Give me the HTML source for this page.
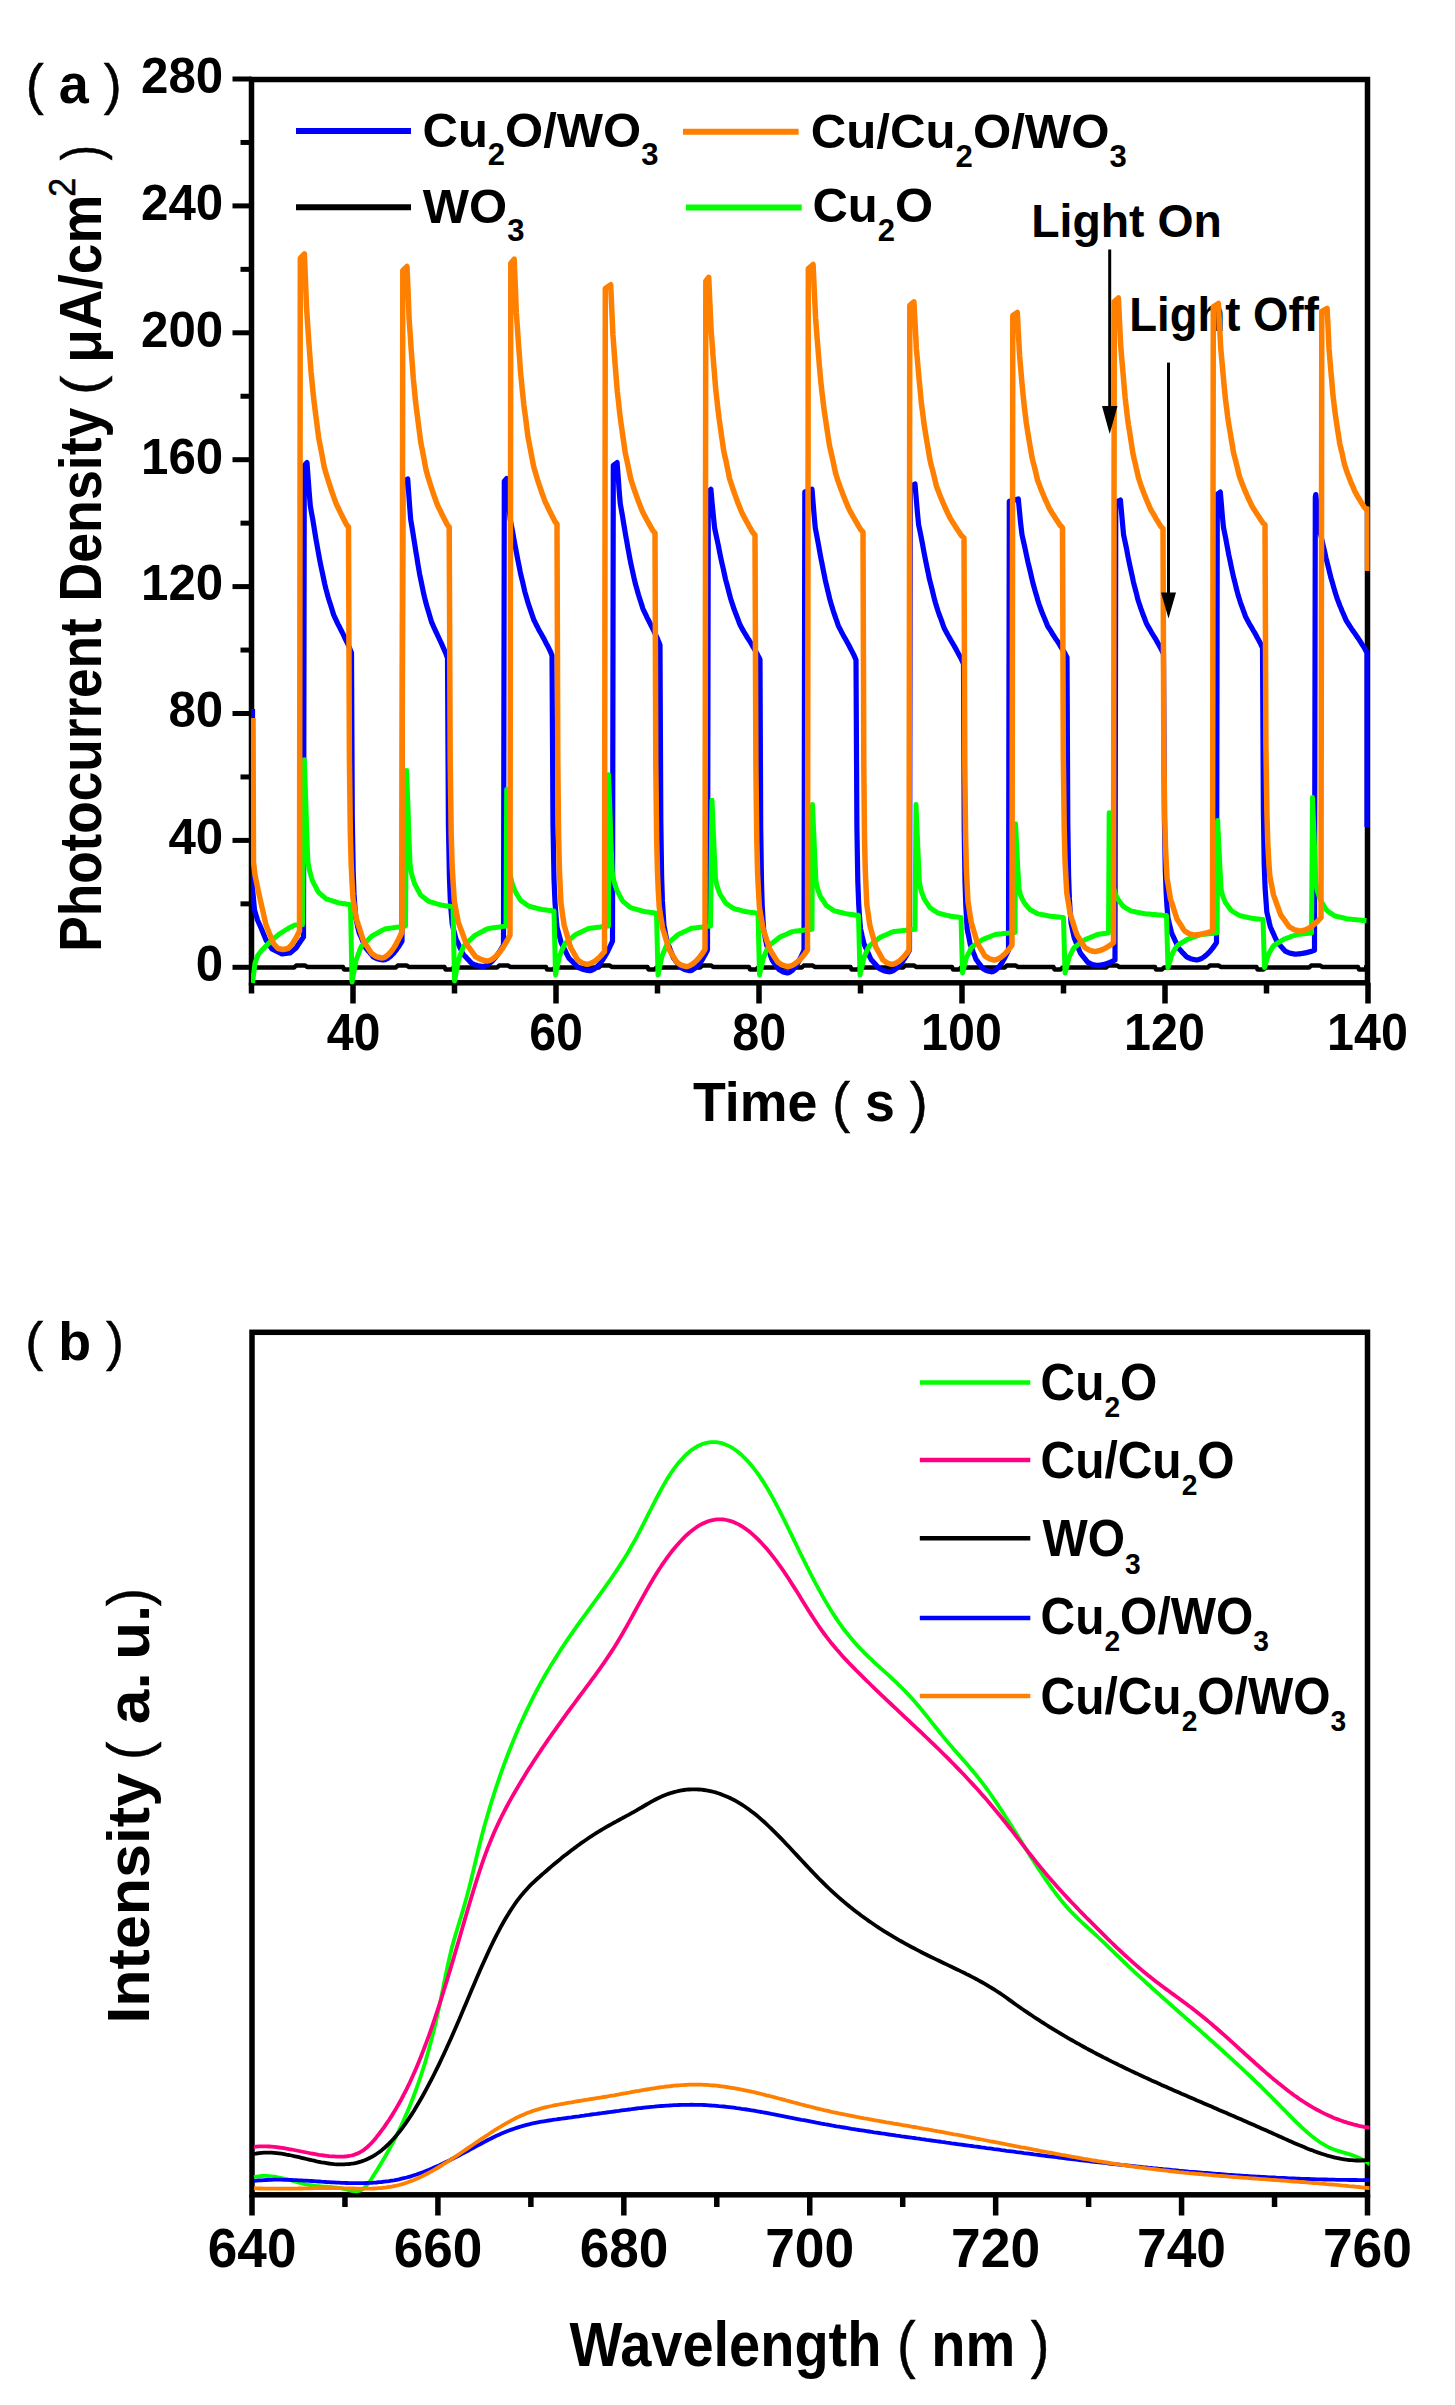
<!DOCTYPE html>
<html><head><meta charset="utf-8"><title>Photocurrent and PL spectra</title>
<style>html,body{margin:0;padding:0;background:#fff;overflow:hidden;width:1455px;height:2405px;}svg{display:block;}</style>
</head><body>
<svg width="1455" height="2405" viewBox="0 0 1455 2405"><rect x="251.5" y="79.5" width="1116.0" height="903.3" fill="none" stroke="#000" stroke-width="5.5"/>
<line x1="232.50" y1="967.30" x2="251.50" y2="967.30" stroke="#000" stroke-width="5" stroke-linecap="butt"/>
<line x1="240.50" y1="903.85" x2="251.50" y2="903.85" stroke="#000" stroke-width="5" stroke-linecap="butt"/>
<line x1="232.50" y1="840.40" x2="251.50" y2="840.40" stroke="#000" stroke-width="5" stroke-linecap="butt"/>
<line x1="240.50" y1="776.95" x2="251.50" y2="776.95" stroke="#000" stroke-width="5" stroke-linecap="butt"/>
<line x1="232.50" y1="713.50" x2="251.50" y2="713.50" stroke="#000" stroke-width="5" stroke-linecap="butt"/>
<line x1="240.50" y1="650.05" x2="251.50" y2="650.05" stroke="#000" stroke-width="5" stroke-linecap="butt"/>
<line x1="232.50" y1="586.60" x2="251.50" y2="586.60" stroke="#000" stroke-width="5" stroke-linecap="butt"/>
<line x1="240.50" y1="523.15" x2="251.50" y2="523.15" stroke="#000" stroke-width="5" stroke-linecap="butt"/>
<line x1="232.50" y1="459.70" x2="251.50" y2="459.70" stroke="#000" stroke-width="5" stroke-linecap="butt"/>
<line x1="240.50" y1="396.25" x2="251.50" y2="396.25" stroke="#000" stroke-width="5" stroke-linecap="butt"/>
<line x1="232.50" y1="332.80" x2="251.50" y2="332.80" stroke="#000" stroke-width="5" stroke-linecap="butt"/>
<line x1="240.50" y1="269.35" x2="251.50" y2="269.35" stroke="#000" stroke-width="5" stroke-linecap="butt"/>
<line x1="232.50" y1="205.90" x2="251.50" y2="205.90" stroke="#000" stroke-width="5" stroke-linecap="butt"/>
<line x1="240.50" y1="142.45" x2="251.50" y2="142.45" stroke="#000" stroke-width="5" stroke-linecap="butt"/>
<line x1="232.50" y1="79.00" x2="251.50" y2="79.00" stroke="#000" stroke-width="5" stroke-linecap="butt"/>
<line x1="251.50" y1="982.80" x2="251.50" y2="993.50" stroke="#000" stroke-width="5.5" stroke-linecap="butt"/>
<line x1="353.00" y1="982.80" x2="353.00" y2="1003.50" stroke="#000" stroke-width="5.5" stroke-linecap="butt"/>
<line x1="454.50" y1="982.80" x2="454.50" y2="993.50" stroke="#000" stroke-width="5.5" stroke-linecap="butt"/>
<line x1="556.00" y1="982.80" x2="556.00" y2="1003.50" stroke="#000" stroke-width="5.5" stroke-linecap="butt"/>
<line x1="657.50" y1="982.80" x2="657.50" y2="993.50" stroke="#000" stroke-width="5.5" stroke-linecap="butt"/>
<line x1="759.00" y1="982.80" x2="759.00" y2="1003.50" stroke="#000" stroke-width="5.5" stroke-linecap="butt"/>
<line x1="860.50" y1="982.80" x2="860.50" y2="993.50" stroke="#000" stroke-width="5.5" stroke-linecap="butt"/>
<line x1="962.00" y1="982.80" x2="962.00" y2="1003.50" stroke="#000" stroke-width="5.5" stroke-linecap="butt"/>
<line x1="1063.50" y1="982.80" x2="1063.50" y2="993.50" stroke="#000" stroke-width="5.5" stroke-linecap="butt"/>
<line x1="1165.00" y1="982.80" x2="1165.00" y2="1003.50" stroke="#000" stroke-width="5.5" stroke-linecap="butt"/>
<line x1="1266.50" y1="982.80" x2="1266.50" y2="993.50" stroke="#000" stroke-width="5.5" stroke-linecap="butt"/>
<line x1="1368.00" y1="982.80" x2="1368.00" y2="1003.50" stroke="#000" stroke-width="5.5" stroke-linecap="butt"/>
<text font-family="Liberation Sans" fill="#000" xml:space="preserve" transform="translate(195.83,981.10) scale(0.9850,1)"><tspan font-size="50" font-weight="bold" dy="0">0</tspan></text>
<text font-family="Liberation Sans" fill="#000" xml:space="preserve" transform="translate(168.44,854.20) scale(0.9850,1)"><tspan font-size="50" font-weight="bold" dy="0">40</tspan></text>
<text font-family="Liberation Sans" fill="#000" xml:space="preserve" transform="translate(168.44,727.30) scale(0.9850,1)"><tspan font-size="50" font-weight="bold" dy="0">80</tspan></text>
<text font-family="Liberation Sans" fill="#000" xml:space="preserve" transform="translate(141.05,600.40) scale(0.9850,1)"><tspan font-size="50" font-weight="bold" dy="0">120</tspan></text>
<text font-family="Liberation Sans" fill="#000" xml:space="preserve" transform="translate(141.05,473.50) scale(0.9850,1)"><tspan font-size="50" font-weight="bold" dy="0">160</tspan></text>
<text font-family="Liberation Sans" fill="#000" xml:space="preserve" transform="translate(141.05,346.60) scale(0.9850,1)"><tspan font-size="50" font-weight="bold" dy="0">200</tspan></text>
<text font-family="Liberation Sans" fill="#000" xml:space="preserve" transform="translate(141.05,219.70) scale(0.9850,1)"><tspan font-size="50" font-weight="bold" dy="0">240</tspan></text>
<text font-family="Liberation Sans" fill="#000" xml:space="preserve" transform="translate(141.05,92.80) scale(0.9850,1)"><tspan font-size="50" font-weight="bold" dy="0">280</tspan></text>
<text font-family="Liberation Sans" fill="#000" xml:space="preserve" transform="translate(326.68,1049.80) scale(0.9500,1)"><tspan font-size="51" font-weight="bold" dy="0">40</tspan></text>
<text font-family="Liberation Sans" fill="#000" xml:space="preserve" transform="translate(529.16,1049.80) scale(0.9500,1)"><tspan font-size="51" font-weight="bold" dy="0">60</tspan></text>
<text font-family="Liberation Sans" fill="#000" xml:space="preserve" transform="translate(732.28,1049.80) scale(0.9500,1)"><tspan font-size="51" font-weight="bold" dy="0">80</tspan></text>
<text font-family="Liberation Sans" fill="#000" xml:space="preserve" transform="translate(921.05,1049.80) scale(0.9500,1)"><tspan font-size="51" font-weight="bold" dy="0">100</tspan></text>
<text font-family="Liberation Sans" fill="#000" xml:space="preserve" transform="translate(1124.05,1049.80) scale(0.9500,1)"><tspan font-size="51" font-weight="bold" dy="0">120</tspan></text>
<text font-family="Liberation Sans" fill="#000" xml:space="preserve" transform="translate(1327.05,1049.80) scale(0.9500,1)"><tspan font-size="51" font-weight="bold" dy="0">140</tspan></text>
<text font-family="Liberation Sans" fill="#000" xml:space="preserve" transform="translate(25.76,103.00) scale(0.9807,1)"><tspan font-size="55" font-weight="normal" dy="0" stroke="#000" stroke-width="0.5">(</tspan><tspan font-size="55" font-weight="bold" dy="0"> a </tspan><tspan font-size="55" font-weight="normal" dy="0" stroke="#000" stroke-width="0.5">)</tspan></text>
<text font-family="Liberation Sans" fill="#000" xml:space="preserve" transform="translate(692.90,1120.60) scale(0.9594,1)"><tspan font-size="56" font-weight="bold" dy="0">Time </tspan><tspan font-size="56" font-weight="normal" dy="0" stroke="#000" stroke-width="0.5">(</tspan><tspan font-size="56" font-weight="bold" dy="0"> s </tspan><tspan font-size="56" font-weight="normal" dy="0" stroke="#000" stroke-width="0.5">)</tspan></text>
<text font-family="Liberation Sans" fill="#000" xml:space="preserve" transform="translate(100.80,951.75) rotate(-90) scale(0.8931,1)"><tspan font-size="59.5" font-weight="bold" dy="0">Photocurrent</tspan></text>
<text font-family="Liberation Sans" fill="#000" xml:space="preserve" transform="translate(100.80,601.59) rotate(-90) scale(0.9030,1)"><tspan font-size="59.5" font-weight="bold" dy="0">Density</tspan></text>
<text font-family="Liberation Sans" fill="#000" xml:space="preserve" transform="translate(100.30,394.68) rotate(-90) scale(1.0305,1)"><tspan font-size="56" font-weight="normal" dy="0" stroke="#000" stroke-width="0.5">(</tspan></text>
<text font-family="Liberation Sans" fill="#000" xml:space="preserve" transform="translate(100.80,362.87) rotate(-90) scale(0.9251,1)"><tspan font-size="59.5" font-weight="bold" dy="0">μA/cm</tspan></text>
<text font-family="Liberation Sans" fill="#000" xml:space="preserve" transform="translate(75.00,196.71) rotate(-90) scale(0.9196,1)"><tspan font-size="37" font-weight="normal" dy="0" stroke="#000" stroke-width="0.6">2</tspan></text>
<text font-family="Liberation Sans" fill="#000" xml:space="preserve" transform="translate(100.30,160.27) rotate(-90) scale(0.8082,1)"><tspan font-size="56" font-weight="normal" dy="0" stroke="#000" stroke-width="0.5">)</tspan></text>
<line x1="296.00" y1="130.90" x2="411.00" y2="130.90" stroke="#0000FF" stroke-width="6" stroke-linecap="butt"/>
<line x1="683.00" y1="131.80" x2="798.60" y2="131.80" stroke="#FF8000" stroke-width="6" stroke-linecap="butt"/>
<line x1="296.00" y1="207.30" x2="411.00" y2="207.30" stroke="#000" stroke-width="6" stroke-linecap="butt"/>
<line x1="686.00" y1="207.40" x2="801.70" y2="207.40" stroke="#00FF00" stroke-width="6" stroke-linecap="butt"/>
<text font-family="Liberation Sans" fill="#000" xml:space="preserve" transform="translate(422.49,146.80) scale(1.0002,1)"><tspan font-size="49" font-weight="bold" dy="0">Cu</tspan><tspan font-size="31" font-weight="bold" dy="18.5">2</tspan><tspan font-size="49" font-weight="bold" dy="-18.5">O/WO</tspan><tspan font-size="31" font-weight="bold" dy="18.5">3</tspan></text>
<text font-family="Liberation Sans" fill="#000" xml:space="preserve" transform="translate(810.78,148.30) scale(1.0042,1)"><tspan font-size="49" font-weight="bold" dy="0">Cu/Cu</tspan><tspan font-size="31" font-weight="bold" dy="18.5">2</tspan><tspan font-size="49" font-weight="bold" dy="-18.5">O/WO</tspan><tspan font-size="31" font-weight="bold" dy="18.5">3</tspan></text>
<text font-family="Liberation Sans" fill="#000" xml:space="preserve" transform="translate(422.85,222.60) scale(1.0000,1)"><tspan font-size="49" font-weight="bold" dy="0">WO</tspan><tspan font-size="31" font-weight="bold" dy="18.5">3</tspan></text>
<text font-family="Liberation Sans" fill="#000" xml:space="preserve" transform="translate(812.39,222.20) scale(1.0000,1)"><tspan font-size="49" font-weight="bold" dy="0">Cu</tspan><tspan font-size="31" font-weight="bold" dy="18.5">2</tspan><tspan font-size="49" font-weight="bold" dy="-18.5">O</tspan></text>
<text font-family="Liberation Sans" fill="#000" xml:space="preserve" transform="translate(1031.20,236.60) scale(0.9871,1)"><tspan font-size="47" font-weight="bold" dy="0">Light On</tspan></text>
<text font-family="Liberation Sans" fill="#000" xml:space="preserve" transform="translate(1129.15,330.80) scale(0.9492,1)"><tspan font-size="48" font-weight="bold" dy="0">Light Off</tspan></text>
<defs><clipPath id="clipA"><rect x="251" y="60" width="1118.5" height="926"/></clipPath></defs>
<g clip-path="url(#clipA)">
<path d="M256.0,967.5 L294.2,967.5 L296.2,965.5 L305.2,965.5 L307.2,967.0 L343.0,967.0 L344.0,969.5 L350.0,969.5 L352.0,967.5 L395.8,967.5 L397.8,965.5 L406.8,965.5 L408.8,967.0 L444.5,967.0 L445.5,969.5 L451.5,969.5 L453.5,967.5 L497.2,967.5 L499.2,965.5 L508.2,965.5 L510.2,967.0 L546.0,967.0 L547.0,969.5 L553.0,969.5 L555.0,967.5 L598.8,967.5 L600.8,965.5 L609.8,965.5 L611.8,967.0 L647.5,967.0 L648.5,969.5 L654.5,969.5 L656.5,967.5 L700.2,967.5 L702.2,965.5 L711.2,965.5 L713.2,967.0 L749.0,967.0 L750.0,969.5 L756.0,969.5 L758.0,967.5 L801.8,967.5 L803.8,965.5 L812.8,965.5 L814.8,967.0 L850.5,967.0 L851.5,969.5 L857.5,969.5 L859.5,967.5 L903.2,967.5 L905.2,965.5 L914.2,965.5 L916.2,967.0 L952.0,967.0 L953.0,969.5 L959.0,969.5 L961.0,967.5 L1004.8,967.5 L1006.8,965.5 L1015.8,965.5 L1017.8,967.0 L1053.5,967.0 L1054.5,969.5 L1060.5,969.5 L1062.5,967.5 L1106.2,967.5 L1108.2,965.5 L1117.2,965.5 L1119.2,967.0 L1155.0,967.0 L1156.0,969.5 L1162.0,969.5 L1164.0,967.5 L1207.8,967.5 L1209.8,965.5 L1218.8,965.5 L1220.8,967.0 L1256.5,967.0 L1257.5,969.5 L1263.5,969.5 L1265.5,967.5 L1309.2,967.5 L1311.2,965.5 L1320.2,965.5 L1322.2,967.0 L1358.0,967.0 L1359.0,969.5 L1365.0,969.5 L1367.0,967.5 L1364.0,967.5" fill="none" stroke="#000" stroke-width="4.5" stroke-linejoin="round" stroke-linecap="butt" />
<path d="M252.5,709.0 L252.5,888.0 L254.5,910.0 L257.5,920.0 L261.5,929.0 L266.0,940.0 L272.0,949.0 L282.0,954.0 L290.0,953.0 L296.0,948.0 L300.0,942.0 L303.5,937.0 L304.3,465.5 L307.0,462.6 L308.1,477.6 L309.2,492.5 L310.3,505.8 L311.4,512.1 L312.6,518.5 L313.7,525.2 L314.8,532.0 L315.9,538.8 L317.0,544.9 L318.1,551.1 L319.2,557.3 L320.4,563.5 L321.5,568.7 L322.6,573.9 L323.7,579.1 L324.8,584.3 L325.9,588.8 L327.0,592.9 L328.1,597.0 L329.2,600.6 L330.4,604.2 L331.5,607.8 L332.6,611.4 L333.7,614.9 L334.8,617.3 L335.9,619.7 L337.0,622.1 L338.1,624.4 L339.3,626.6 L340.4,628.8 L341.5,631.0 L342.6,633.2 L343.7,635.4 L344.8,637.8 L345.9,640.1 L347.1,642.5 L348.2,644.9 L349.3,647.3 L350.4,650.1 L351.5,653.0 L352.3,818.1 L353.2,870.6 L354.0,893.7 L354.9,906.4 L355.7,917.6 L356.6,921.4 L357.4,925.1 L358.2,928.9 L359.1,932.5 L359.9,934.5 L360.8,936.4 L361.6,938.4 L362.4,940.4 L363.3,942.3 L364.1,944.3 L365.0,946.3 L365.8,948.0 L366.6,949.0 L367.5,950.0 L368.3,950.9 L369.2,951.9 L370.0,952.9 L370.9,953.9 L371.7,954.9 L372.5,955.9 L373.4,956.9 L374.2,957.3 L375.1,957.7 L375.9,958.1 L376.8,958.5 L377.6,958.8 L378.4,959.1 L379.3,959.3 L380.1,959.5 L381.0,959.6 L381.8,959.8 L382.6,960.0 L383.5,960.0 L384.3,959.8 L385.2,959.6 L386.0,959.2 L386.9,958.8 L387.7,958.4 L388.5,957.8 L389.4,957.2 L390.2,956.6 L391.1,955.8 L391.9,955.0 L392.7,954.2 L393.6,953.3 L394.4,952.3 L395.3,951.3 L396.1,950.2 L396.9,949.0 L397.8,947.8 L398.6,946.6 L399.5,945.3 L400.3,943.9 L401.2,942.5 L402.0,941.0 L402.8,481.7 L407.7,479.0 L408.7,493.1 L409.7,507.1 L410.7,519.6 L411.7,525.5 L412.7,531.5 L413.7,537.8 L414.7,544.2 L415.7,550.6 L416.7,556.4 L417.6,562.2 L418.6,568.1 L419.6,573.9 L420.6,578.8 L421.6,583.6 L422.6,588.5 L423.6,593.4 L424.6,597.7 L425.6,601.5 L426.6,605.3 L427.6,608.8 L428.6,612.1 L429.6,615.5 L430.6,618.8 L431.6,622.2 L432.6,624.4 L433.6,626.7 L434.6,628.9 L435.6,631.1 L436.6,633.2 L437.6,635.3 L438.5,637.3 L439.5,639.4 L440.5,641.5 L441.5,643.7 L442.5,645.9 L443.5,648.2 L444.5,650.4 L445.5,652.6 L446.5,655.3 L447.5,658.0 L448.4,823.9 L449.4,876.6 L450.3,899.9 L451.2,912.6 L452.2,923.9 L453.1,927.7 L454.0,931.5 L455.0,935.2 L455.9,938.9 L456.8,940.9 L457.8,942.8 L458.7,944.8 L459.6,946.8 L460.6,948.7 L461.5,950.7 L462.4,952.7 L463.4,954.4 L464.3,955.4 L465.2,956.4 L466.2,957.4 L467.1,958.4 L468.0,959.4 L469.0,960.4 L469.9,961.4 L470.8,962.4 L471.8,963.4 L472.7,963.8 L473.6,964.2 L474.6,964.6 L475.5,964.9 L476.4,965.3 L477.4,965.6 L478.3,965.8 L479.2,966.0 L480.2,966.1 L481.1,966.3 L482.0,966.5 L483.0,966.4 L483.9,966.3 L484.8,966.0 L485.8,965.6 L486.7,965.2 L487.6,964.7 L488.6,964.1 L489.5,963.4 L490.4,962.6 L491.4,961.8 L492.3,960.9 L493.2,959.9 L494.2,958.9 L495.1,957.8 L496.0,956.6 L497.0,955.4 L497.9,954.1 L498.8,952.7 L499.8,951.3 L500.7,949.8 L501.6,948.3 L502.6,946.7 L503.5,945.0 L504.3,481.3 L506.7,478.6 L507.8,492.5 L509.0,506.4 L510.1,518.7 L511.2,524.6 L512.4,530.5 L513.5,536.7 L514.6,543.0 L515.8,549.3 L516.9,555.1 L518.0,560.8 L519.2,566.6 L520.3,572.3 L521.4,577.1 L522.6,581.9 L523.7,586.8 L524.8,591.6 L526.0,595.8 L527.1,599.6 L528.2,603.4 L529.4,606.8 L530.5,610.1 L531.6,613.4 L532.7,616.7 L533.9,620.0 L535.0,622.2 L536.1,624.5 L537.3,626.7 L538.4,628.9 L539.5,630.9 L540.7,633.0 L541.8,635.0 L542.9,637.0 L544.1,639.1 L545.2,641.3 L546.3,643.5 L547.5,645.7 L548.6,647.9 L549.7,650.1 L550.9,652.7 L552.0,655.4 L553.0,824.9 L554.0,878.8 L555.0,902.6 L556.0,915.7 L557.0,927.2 L558.0,931.0 L559.1,934.9 L560.1,938.7 L561.1,942.5 L562.1,944.5 L563.1,946.5 L564.1,948.5 L565.1,950.5 L566.1,952.6 L567.1,954.6 L568.1,956.6 L569.1,958.4 L570.1,959.4 L571.2,960.4 L572.2,961.4 L573.2,962.4 L574.2,963.4 L575.2,964.5 L576.2,965.5 L577.2,966.5 L578.2,967.5 L579.2,967.9 L580.2,968.3 L581.2,968.7 L582.2,969.1 L583.3,969.5 L584.3,969.8 L585.3,970.0 L586.3,970.2 L587.3,970.3 L588.3,970.5 L589.3,970.7 L590.3,970.6 L591.3,970.4 L592.3,970.0 L593.3,969.5 L594.4,968.9 L595.4,968.2 L596.4,967.3 L597.4,966.4 L598.4,965.3 L599.4,964.2 L600.4,963.0 L601.4,961.6 L602.4,960.2 L603.4,958.7 L604.4,957.1 L605.4,955.4 L606.5,953.6 L607.5,951.7 L608.5,949.7 L609.5,947.7 L610.5,945.5 L611.5,943.3 L612.5,941.0 L613.3,465.3 L617.1,462.6 L618.2,476.9 L619.2,491.3 L620.3,503.9 L621.4,510.0 L622.5,516.1 L623.5,522.5 L624.6,529.0 L625.7,535.6 L626.8,541.5 L627.8,547.4 L628.9,553.3 L630.0,559.3 L631.0,564.2 L632.1,569.2 L633.2,574.2 L634.3,579.2 L635.3,583.5 L636.4,587.4 L637.5,591.3 L638.5,594.8 L639.6,598.3 L640.7,601.7 L641.8,605.1 L642.8,608.5 L643.9,610.8 L645.0,613.1 L646.1,615.4 L647.1,617.6 L648.2,619.7 L649.3,621.8 L650.3,624.0 L651.4,626.1 L652.5,628.2 L653.6,630.4 L654.6,632.7 L655.7,635.0 L656.8,637.2 L657.9,639.5 L658.9,642.3 L660.0,645.0 L660.8,820.1 L661.6,875.8 L662.4,900.4 L663.2,913.8 L664.0,925.8 L664.8,929.7 L665.5,933.7 L666.3,937.7 L667.1,941.5 L667.9,943.6 L668.7,945.7 L669.5,947.8 L670.3,949.9 L671.1,952.0 L671.9,954.0 L672.7,956.1 L673.5,957.9 L674.2,959.0 L675.0,960.0 L675.8,961.1 L676.6,962.1 L677.4,963.2 L678.2,964.2 L679.0,965.3 L679.8,966.4 L680.6,967.4 L681.4,967.8 L682.2,968.2 L683.0,968.7 L683.8,969.1 L684.5,969.5 L685.3,969.8 L686.1,970.0 L686.9,970.1 L687.7,970.3 L688.5,970.5 L689.3,970.7 L690.1,970.7 L690.9,970.5 L691.7,970.2 L692.5,969.9 L693.2,969.4 L694.0,968.9 L694.8,968.4 L695.6,967.7 L696.4,967.0 L697.2,966.2 L698.0,965.3 L698.8,964.4 L699.6,963.4 L700.4,962.3 L701.2,961.2 L702.0,960.0 L702.8,958.8 L703.5,957.4 L704.3,956.1 L705.1,954.6 L705.9,953.2 L706.7,951.6 L707.5,950.0 L708.3,491.9 L710.9,489.3 L712.1,502.7 L713.4,516.1 L714.6,527.9 L715.8,533.6 L717.0,539.3 L718.3,545.3 L719.5,551.4 L720.7,557.5 L721.9,563.0 L723.2,568.5 L724.4,574.1 L725.6,579.6 L726.9,584.3 L728.1,588.9 L729.3,593.6 L730.5,598.2 L731.8,602.3 L733.0,605.9 L734.2,609.6 L735.5,612.8 L736.7,616.0 L737.9,619.2 L739.1,622.4 L740.4,625.6 L741.6,627.8 L742.8,629.9 L744.0,632.0 L745.3,634.1 L746.5,636.1 L747.7,638.1 L749.0,640.0 L750.2,642.0 L751.4,644.0 L752.6,646.1 L753.9,648.2 L755.1,650.3 L756.3,652.5 L757.5,654.6 L758.8,657.1 L760.0,659.7 L760.7,828.1 L761.5,881.6 L762.2,905.3 L762.9,918.2 L763.7,929.7 L764.4,933.5 L765.1,937.3 L765.9,941.2 L766.6,944.9 L767.3,946.9 L768.1,948.9 L768.8,950.9 L769.5,952.9 L770.3,954.9 L771.0,956.9 L771.7,958.9 L772.5,960.6 L773.2,961.6 L773.9,962.7 L774.7,963.7 L775.4,964.7 L776.1,965.7 L776.9,966.7 L777.6,967.7 L778.3,968.7 L779.1,969.7 L779.8,970.1 L780.5,970.5 L781.3,970.9 L782.0,971.3 L782.7,971.7 L783.5,972.0 L784.2,972.2 L784.9,972.4 L785.7,972.5 L786.4,972.7 L787.1,972.9 L787.9,972.8 L788.6,972.7 L789.3,972.4 L790.1,972.0 L790.8,971.5 L791.5,971.0 L792.3,970.3 L793.0,969.6 L793.7,968.8 L794.5,967.9 L795.2,966.9 L795.9,965.9 L796.7,964.8 L797.4,963.6 L798.1,962.4 L798.9,961.1 L799.6,959.7 L800.3,958.2 L801.1,956.7 L801.8,955.1 L802.5,953.5 L803.3,951.8 L804.0,950.0 L804.8,491.9 L812.0,489.3 L813.1,502.7 L814.2,516.1 L815.3,528.0 L816.4,533.7 L817.5,539.4 L818.6,545.4 L819.7,551.5 L820.8,557.6 L821.9,563.1 L823.0,568.7 L824.1,574.2 L825.2,579.8 L826.3,584.4 L827.4,589.1 L828.5,593.7 L829.6,598.4 L830.7,602.4 L831.8,606.1 L832.9,609.8 L834.0,613.1 L835.1,616.3 L836.2,619.5 L837.3,622.7 L838.4,625.9 L839.5,628.0 L840.6,630.1 L841.7,632.3 L842.8,634.4 L843.9,636.4 L845.0,638.3 L846.1,640.3 L847.2,642.3 L848.3,644.2 L849.4,646.3 L850.5,648.5 L851.6,650.6 L852.7,652.7 L853.8,654.9 L854.9,657.4 L856.0,660.0 L856.9,827.6 L857.8,881.0 L858.7,904.5 L859.6,917.4 L860.5,928.8 L861.4,932.6 L862.2,936.4 L863.1,940.2 L864.0,943.9 L864.9,945.9 L865.8,947.9 L866.7,949.9 L867.6,951.9 L868.5,953.9 L869.4,955.9 L870.3,957.9 L871.2,959.6 L872.0,960.6 L872.9,961.6 L873.8,962.6 L874.7,963.6 L875.6,964.6 L876.5,965.6 L877.4,966.6 L878.3,967.6 L879.2,968.6 L880.1,969.1 L881.0,969.4 L881.9,969.8 L882.8,970.2 L883.6,970.6 L884.5,970.9 L885.4,971.1 L886.3,971.3 L887.2,971.4 L888.1,971.6 L889.0,971.8 L889.9,971.7 L890.8,971.6 L891.7,971.3 L892.6,970.9 L893.5,970.5 L894.3,969.9 L895.2,969.3 L896.1,968.6 L897.0,967.9 L897.9,967.0 L898.8,966.1 L899.7,965.1 L900.6,964.1 L901.5,963.0 L902.4,961.8 L903.3,960.5 L904.1,959.2 L905.0,957.8 L905.9,956.4 L906.8,954.9 L907.7,953.3 L908.6,951.7 L909.5,950.0 L910.3,486.7 L915.0,484.0 L916.2,498.1 L917.4,512.3 L918.6,524.8 L919.9,530.8 L921.1,536.8 L922.3,543.1 L923.5,549.6 L924.7,556.0 L925.9,561.9 L927.1,567.7 L928.3,573.5 L929.5,579.4 L930.8,584.3 L932.0,589.2 L933.2,594.1 L934.4,599.0 L935.6,603.3 L936.8,607.2 L938.0,611.0 L939.2,614.5 L940.5,617.9 L941.7,621.2 L942.9,624.6 L944.1,628.0 L945.3,630.2 L946.5,632.5 L947.7,634.8 L949.0,637.0 L950.2,639.1 L951.4,641.2 L952.6,643.2 L953.8,645.3 L955.0,647.4 L956.2,649.6 L957.4,651.9 L958.6,654.1 L959.9,656.4 L961.1,658.6 L962.3,661.3 L963.5,664.0 L964.2,829.5 L965.0,882.1 L965.8,905.3 L966.5,918.1 L967.2,929.3 L968.0,933.1 L968.8,936.8 L969.5,940.6 L970.2,944.2 L971.0,946.2 L971.8,948.2 L972.5,950.1 L973.2,952.1 L974.0,954.1 L974.8,956.1 L975.5,958.0 L976.2,959.7 L977.0,960.7 L977.8,961.7 L978.5,962.7 L979.2,963.7 L980.0,964.7 L980.8,965.7 L981.5,966.7 L982.2,967.7 L983.0,968.7 L983.8,969.1 L984.5,969.5 L985.2,969.9 L986.0,970.3 L986.8,970.6 L987.5,970.9 L988.2,971.1 L989.0,971.3 L989.8,971.4 L990.5,971.6 L991.2,971.8 L992.0,971.7 L992.8,971.6 L993.5,971.3 L994.2,970.9 L995.0,970.5 L995.8,969.9 L996.5,969.3 L997.2,968.6 L998.0,967.9 L998.8,967.0 L999.5,966.1 L1000.2,965.1 L1001.0,964.1 L1001.8,963.0 L1002.5,961.8 L1003.2,960.5 L1004.0,959.2 L1004.8,957.8 L1005.5,956.4 L1006.2,954.9 L1007.0,953.3 L1007.8,951.7 L1008.5,950.0 L1009.3,501.3 L1018.3,498.9 L1019.5,511.4 L1020.7,523.8 L1022.0,534.8 L1023.2,540.1 L1024.4,545.4 L1025.6,551.0 L1026.8,556.7 L1028.0,562.3 L1029.3,567.5 L1030.5,572.6 L1031.7,577.8 L1032.9,583.0 L1034.1,587.3 L1035.3,591.6 L1036.6,595.9 L1037.8,600.3 L1039.0,604.0 L1040.2,607.4 L1041.4,610.8 L1042.7,613.9 L1043.9,616.9 L1045.1,619.8 L1046.3,622.8 L1047.5,625.8 L1048.7,627.8 L1050.0,629.7 L1051.2,631.7 L1052.4,633.7 L1053.6,635.5 L1054.8,637.4 L1056.0,639.2 L1057.3,641.0 L1058.5,642.9 L1059.7,644.8 L1060.9,646.8 L1062.1,648.8 L1063.3,650.8 L1064.6,652.7 L1065.8,655.1 L1067.0,657.5 L1067.8,823.0 L1068.6,875.7 L1069.4,898.9 L1070.2,911.6 L1071.0,922.9 L1071.8,926.7 L1072.6,930.4 L1073.4,934.2 L1074.2,937.8 L1075.0,939.8 L1075.8,941.8 L1076.6,943.7 L1077.4,945.7 L1078.2,947.7 L1079.0,949.7 L1079.8,951.6 L1080.6,953.3 L1081.4,954.3 L1082.2,955.3 L1083.0,956.3 L1083.8,957.3 L1084.6,958.3 L1085.4,959.3 L1086.2,960.3 L1087.0,961.3 L1087.8,962.3 L1088.6,962.7 L1089.4,963.1 L1090.2,963.5 L1091.0,963.9 L1091.8,964.2 L1092.6,964.5 L1093.4,964.7 L1094.2,964.9 L1095.0,965.0 L1095.8,965.2 L1096.6,965.4 L1097.4,965.4 L1098.2,965.3 L1099.0,965.3 L1099.8,965.2 L1100.6,965.1 L1101.4,964.9 L1102.2,964.8 L1103.0,964.6 L1103.8,964.4 L1104.6,964.2 L1105.4,964.0 L1106.2,963.7 L1107.0,963.5 L1107.8,963.2 L1108.6,962.9 L1109.4,962.6 L1110.2,962.3 L1111.0,961.9 L1111.8,961.6 L1112.6,961.2 L1113.4,960.8 L1114.2,960.4 L1115.0,960.0 L1115.8,502.3 L1120.4,500.0 L1121.5,512.1 L1122.6,524.2 L1123.6,534.9 L1124.7,540.0 L1125.8,545.1 L1126.9,550.6 L1127.9,556.1 L1129.0,561.6 L1130.1,566.6 L1131.2,571.6 L1132.3,576.6 L1133.3,581.6 L1134.4,585.8 L1135.5,590.0 L1136.6,594.2 L1137.6,598.4 L1138.7,602.0 L1139.8,605.3 L1140.9,608.6 L1142.0,611.6 L1143.0,614.5 L1144.1,617.3 L1145.2,620.2 L1146.3,623.1 L1147.3,625.0 L1148.4,627.0 L1149.5,628.9 L1150.6,630.8 L1151.6,632.6 L1152.7,634.4 L1153.8,636.1 L1154.9,637.9 L1156.0,639.7 L1157.0,641.6 L1158.1,643.5 L1159.2,645.4 L1160.3,647.4 L1161.3,649.3 L1162.4,651.6 L1163.5,653.9 L1164.4,818.4 L1165.3,870.7 L1166.2,893.8 L1167.0,906.5 L1167.9,917.7 L1168.8,921.4 L1169.7,925.2 L1170.6,928.9 L1171.5,932.5 L1172.3,934.5 L1173.2,936.4 L1174.1,938.4 L1175.0,940.3 L1175.9,942.3 L1176.8,944.3 L1177.6,946.2 L1178.5,947.9 L1179.4,948.9 L1180.3,949.9 L1181.2,950.9 L1182.0,951.9 L1182.9,952.9 L1183.8,953.8 L1184.7,954.8 L1185.6,955.8 L1186.5,956.8 L1187.3,957.2 L1188.2,957.6 L1189.1,958.0 L1190.0,958.4 L1190.9,958.7 L1191.8,959.0 L1192.7,959.2 L1193.5,959.4 L1194.4,959.5 L1195.3,959.7 L1196.2,959.9 L1197.1,959.9 L1198.0,959.7 L1198.8,959.5 L1199.7,959.2 L1200.6,958.9 L1201.5,958.4 L1202.4,957.9 L1203.2,957.4 L1204.1,956.8 L1205.0,956.1 L1205.9,955.4 L1206.8,954.6 L1207.7,953.8 L1208.5,952.9 L1209.4,952.0 L1210.3,951.0 L1211.2,949.9 L1212.1,948.8 L1213.0,947.7 L1213.8,946.5 L1214.7,945.2 L1215.6,943.9 L1216.5,942.6 L1217.3,494.4 L1220.3,492.1 L1221.4,504.3 L1222.4,516.6 L1223.5,527.4 L1224.5,532.6 L1225.6,537.8 L1226.6,543.3 L1227.7,548.9 L1228.7,554.5 L1229.8,559.5 L1230.8,564.6 L1231.9,569.7 L1233.0,574.7 L1234.0,579.0 L1235.1,583.2 L1236.1,587.5 L1237.2,591.7 L1238.2,595.4 L1239.3,598.8 L1240.3,602.1 L1241.4,605.1 L1242.5,608.1 L1243.5,611.0 L1244.6,613.9 L1245.6,616.8 L1246.7,618.8 L1247.7,620.7 L1248.8,622.7 L1249.8,624.6 L1250.9,626.4 L1252.0,628.2 L1253.0,630.0 L1254.1,631.8 L1255.1,633.6 L1256.2,635.5 L1257.2,637.5 L1258.3,639.4 L1259.3,641.4 L1260.4,643.3 L1261.4,645.7 L1262.5,648.0 L1263.4,812.6 L1264.2,864.9 L1265.1,888.0 L1266.0,900.7 L1266.8,911.9 L1267.7,915.6 L1268.6,919.3 L1269.4,923.1 L1270.3,926.7 L1271.2,928.7 L1272.0,930.6 L1272.9,932.6 L1273.8,934.5 L1274.6,936.5 L1275.5,938.4 L1276.4,940.4 L1277.2,942.1 L1278.1,943.1 L1279.0,944.1 L1279.8,945.1 L1280.7,946.1 L1281.6,947.0 L1282.4,948.0 L1283.3,949.0 L1284.2,950.0 L1285.0,951.0 L1285.9,951.4 L1286.8,951.8 L1287.6,952.2 L1288.5,952.6 L1289.4,952.9 L1290.2,953.2 L1291.1,953.4 L1292.0,953.6 L1292.8,953.7 L1293.7,953.9 L1294.6,954.1 L1295.4,954.1 L1296.3,954.1 L1297.2,954.0 L1298.0,953.9 L1298.9,953.9 L1299.8,953.8 L1300.6,953.7 L1301.5,953.5 L1302.4,953.4 L1303.2,953.3 L1304.1,953.1 L1305.0,952.9 L1305.8,952.8 L1306.7,952.6 L1307.6,952.4 L1308.4,952.1 L1309.3,951.9 L1310.2,951.7 L1311.0,951.4 L1311.9,951.2 L1312.8,950.9 L1313.6,950.6 L1314.5,950.3 L1315.3,497.0 L1315.8,494.6 L1317.1,507.0 L1318.3,519.3 L1319.6,530.3 L1320.9,535.5 L1322.1,540.8 L1323.4,546.3 L1324.7,551.9 L1325.9,557.6 L1327.2,562.7 L1328.5,567.8 L1329.7,572.9 L1331.0,578.0 L1332.3,582.3 L1333.5,586.6 L1334.8,590.9 L1336.1,595.2 L1337.3,598.9 L1338.6,602.3 L1339.9,605.7 L1341.2,608.7 L1342.4,611.7 L1343.7,614.6 L1345.0,617.6 L1346.2,620.5 L1347.5,622.5 L1348.8,624.5 L1350.0,626.4 L1351.3,628.4 L1352.6,630.2 L1353.8,632.0 L1355.1,633.8 L1356.4,635.7 L1357.6,637.5 L1358.9,639.4 L1360.2,641.4 L1361.4,643.3 L1362.7,645.3 L1364.0,647.3 L1365.2,649.6 L1366.5,652.0 L1367.0,652.0 L1367.0,827.0" fill="none" stroke="#0000FF" stroke-width="5.2" stroke-linejoin="round" stroke-linecap="butt" />
<path d="M252.5,983.0 L255.0,963.0 L258.0,955.0 L262.0,950.0 L267.0,945.0 L272.0,940.0 L280.0,933.5 L288.0,928.5 L295.0,925.0 L302.5,924.7 L304.3,759.8 L305.5,793.3 L306.6,828.3 L307.8,860.2 L308.9,867.6 L310.1,872.7 L311.2,876.7 L312.4,880.5 L313.5,882.8 L314.7,885.1 L315.9,887.3 L317.0,889.6 L318.2,891.9 L319.3,893.0 L320.5,894.0 L321.6,895.0 L322.8,896.0 L323.9,896.9 L325.1,897.9 L326.2,898.9 L327.4,899.3 L328.6,899.6 L329.7,900.0 L330.9,900.4 L332.0,900.7 L333.2,901.1 L334.3,901.5 L335.5,901.8 L336.6,902.2 L337.8,902.5 L338.9,902.9 L340.1,903.1 L341.3,903.3 L342.4,903.5 L343.6,903.7 L344.7,903.8 L345.9,904.0 L347.0,904.2 L348.2,904.4 L349.3,904.5 L350.5,904.7 L352.0,982.0 L353.3,974.8 L354.7,967.6 L356.0,960.4 L357.4,956.7 L358.7,953.1 L360.0,949.4 L361.4,946.3 L362.7,945.0 L364.0,943.7 L365.4,942.4 L366.7,941.1 L368.1,939.8 L369.4,938.5 L370.7,937.1 L372.1,935.9 L373.4,935.1 L374.7,934.4 L376.1,933.7 L377.4,933.0 L378.8,932.3 L380.1,931.5 L381.4,930.8 L382.8,930.1 L384.1,929.4 L385.4,928.8 L386.8,928.6 L388.1,928.4 L389.4,928.3 L390.8,928.1 L392.1,927.9 L393.5,927.7 L394.8,927.5 L396.1,927.3 L397.5,927.1 L398.8,926.9 L400.1,926.8 L401.5,926.6 L402.8,926.4 L404.2,926.2 L405.5,926.0 L406.6,770.4 L407.8,802.1 L408.9,835.2 L410.1,865.0 L411.2,872.0 L412.4,876.8 L413.6,880.5 L414.7,884.1 L415.9,886.2 L417.0,888.4 L418.2,890.5 L419.4,892.7 L420.5,894.8 L421.7,895.8 L422.8,896.8 L424.0,897.7 L425.2,898.6 L426.3,899.5 L427.5,900.5 L428.6,901.4 L429.8,901.7 L431.0,902.1 L432.1,902.4 L433.3,902.7 L434.4,903.1 L435.6,903.4 L436.8,903.8 L437.9,904.1 L439.1,904.4 L440.2,904.8 L441.4,905.1 L442.6,905.3 L443.7,905.5 L444.9,905.7 L446.0,905.8 L447.2,906.0 L448.4,906.1 L449.5,906.3 L450.7,906.5 L451.8,906.6 L453.0,906.8 L454.5,981.0 L455.8,974.2 L457.1,967.4 L458.4,960.5 L459.6,956.7 L460.9,953.2 L462.2,949.7 L463.5,946.3 L464.8,945.0 L466.1,943.8 L467.4,942.5 L468.7,941.3 L469.9,940.0 L471.2,938.8 L472.5,937.5 L473.8,936.3 L475.1,935.3 L476.4,934.6 L477.7,933.9 L479.0,933.2 L480.2,932.5 L481.5,931.8 L482.8,931.2 L484.1,930.5 L485.4,929.8 L486.7,929.1 L488.0,928.6 L489.3,928.4 L490.6,928.2 L491.8,928.0 L493.1,927.8 L494.4,927.7 L495.7,927.5 L497.0,927.3 L498.3,927.1 L499.6,926.9 L500.9,926.7 L502.1,926.6 L503.4,926.4 L504.7,926.2 L506.0,926.0 L506.7,789.6 L507.9,818.3 L509.1,848.6 L510.2,874.1 L511.4,880.5 L512.6,884.6 L513.8,888.0 L515.0,891.0 L516.2,893.0 L517.3,894.9 L518.5,896.9 L519.7,898.8 L520.9,900.6 L522.1,901.4 L523.3,902.3 L524.4,903.1 L525.6,903.9 L526.8,904.8 L528.0,905.6 L529.2,906.2 L530.4,906.5 L531.5,906.8 L532.7,907.2 L533.9,907.5 L535.1,907.8 L536.3,908.1 L537.4,908.4 L538.6,908.7 L539.8,909.0 L541.0,909.3 L542.2,909.5 L543.4,909.7 L544.5,909.8 L545.7,910.0 L546.9,910.1 L548.1,910.3 L549.3,910.4 L550.5,910.6 L551.6,910.7 L552.8,910.9 L554.0,911.0 L555.5,975.0 L556.8,968.8 L558.1,962.5 L559.5,956.3 L560.8,953.0 L562.1,949.8 L563.5,946.6 L564.8,943.9 L566.1,942.7 L567.4,941.6 L568.8,940.4 L570.1,939.3 L571.4,938.2 L572.7,937.0 L574.0,935.9 L575.4,934.7 L576.7,934.1 L578.0,933.4 L579.4,932.8 L580.7,932.2 L582.0,931.6 L583.3,930.9 L584.6,930.3 L586.0,929.7 L587.3,929.1 L588.6,928.5 L590.0,928.3 L591.3,928.1 L592.6,928.0 L593.9,927.8 L595.2,927.6 L596.6,927.5 L597.9,927.3 L599.2,927.2 L600.5,927.0 L601.9,926.8 L603.2,926.7 L604.5,926.5 L605.9,926.3 L607.2,926.2 L608.5,926.0 L608.6,774.7 L609.8,807.9 L611.0,842.9 L612.2,871.4 L613.4,878.8 L614.6,883.3 L615.8,887.2 L617.0,890.6 L618.2,892.8 L619.4,895.1 L620.6,897.3 L621.8,899.6 L623.0,901.4 L624.2,902.4 L625.4,903.4 L626.6,904.3 L627.8,905.3 L629.0,906.3 L630.2,907.2 L631.4,907.8 L632.5,908.2 L633.7,908.5 L634.9,908.9 L636.1,909.2 L637.3,909.6 L638.5,909.9 L639.7,910.3 L640.9,910.6 L642.1,911.0 L643.3,911.3 L644.5,911.5 L645.7,911.7 L646.9,911.9 L648.1,912.0 L649.3,912.2 L650.5,912.4 L651.7,912.5 L652.9,912.7 L654.1,912.9 L655.3,913.0 L656.5,913.2 L658.0,975.0 L659.3,968.8 L660.6,962.6 L661.9,956.4 L663.2,953.1 L664.6,950.0 L665.9,946.8 L667.2,943.9 L668.5,942.8 L669.8,941.7 L671.1,940.5 L672.4,939.4 L673.8,938.3 L675.1,937.1 L676.4,936.0 L677.7,934.9 L679.0,934.1 L680.3,933.5 L681.6,932.9 L682.9,932.3 L684.2,931.6 L685.6,931.0 L686.9,930.4 L688.2,929.8 L689.5,929.2 L690.8,928.5 L692.1,928.3 L693.4,928.1 L694.8,928.0 L696.1,927.8 L697.4,927.6 L698.7,927.5 L700.0,927.3 L701.3,927.2 L702.6,927.0 L703.9,926.8 L705.2,926.7 L706.6,926.5 L707.9,926.3 L709.2,926.2 L710.5,926.0 L712.0,800.3 L713.1,826.3 L714.3,853.4 L715.5,878.4 L716.6,884.2 L717.8,888.2 L718.9,891.3 L720.0,894.3 L721.2,896.1 L722.4,897.8 L723.5,899.6 L724.6,901.4 L725.8,903.1 L727.0,904.1 L728.1,904.8 L729.2,905.6 L730.4,906.3 L731.5,907.1 L732.7,907.9 L733.9,908.6 L735.0,909.0 L736.1,909.3 L737.3,909.5 L738.5,909.8 L739.6,910.1 L740.8,910.4 L741.9,910.7 L743.0,910.9 L744.2,911.2 L745.4,911.5 L746.5,911.8 L747.6,912.0 L748.8,912.1 L750.0,912.3 L751.1,912.4 L752.2,912.5 L753.4,912.7 L754.5,912.8 L755.7,912.9 L756.9,913.1 L758.0,913.2 L759.5,975.0 L760.8,969.2 L762.1,963.4 L763.4,957.6 L764.8,954.6 L766.1,951.6 L767.4,948.6 L768.7,946.0 L770.0,944.9 L771.3,943.8 L772.6,942.8 L773.9,941.7 L775.2,940.7 L776.6,939.6 L777.9,938.6 L779.2,937.5 L780.5,936.8 L781.8,936.2 L783.1,935.6 L784.4,935.1 L785.8,934.5 L787.1,933.9 L788.4,933.3 L789.7,932.7 L791.0,932.1 L792.3,931.6 L793.6,931.4 L794.9,931.2 L796.2,931.0 L797.6,930.9 L798.9,930.7 L800.2,930.6 L801.5,930.4 L802.8,930.3 L804.1,930.1 L805.4,930.0 L806.8,929.8 L808.1,929.7 L809.4,929.5 L810.7,929.4 L812.0,929.2 L812.5,804.5 L813.6,830.0 L814.8,856.6 L816.0,881.2 L817.1,886.9 L818.2,890.8 L819.4,893.8 L820.5,896.8 L821.7,898.5 L822.9,900.2 L824.0,901.9 L825.1,903.7 L826.3,905.4 L827.5,906.3 L828.6,907.1 L829.8,907.8 L830.9,908.6 L832.0,909.3 L833.2,910.1 L834.4,910.8 L835.5,911.1 L836.6,911.4 L837.8,911.7 L839.0,912.0 L840.1,912.3 L841.2,912.5 L842.4,912.8 L843.5,913.1 L844.7,913.4 L845.9,913.6 L847.0,913.9 L848.1,914.1 L849.3,914.2 L850.5,914.4 L851.6,914.5 L852.8,914.6 L853.9,914.8 L855.0,914.9 L856.2,915.0 L857.4,915.2 L858.5,915.3 L860.0,975.0 L861.4,968.9 L862.8,962.9 L864.1,957.1 L865.5,954.0 L866.9,950.9 L868.2,947.8 L869.6,945.7 L871.0,944.6 L872.4,943.5 L873.8,942.4 L875.1,941.3 L876.5,940.2 L877.9,939.1 L879.2,938.0 L880.6,937.1 L882.0,936.5 L883.4,935.9 L884.8,935.3 L886.1,934.7 L887.5,934.1 L888.9,933.5 L890.2,932.9 L891.6,932.3 L893.0,931.7 L894.4,931.5 L895.8,931.4 L897.1,931.2 L898.5,931.0 L899.9,930.9 L901.2,930.7 L902.6,930.6 L904.0,930.4 L905.4,930.3 L906.8,930.1 L908.1,930.0 L909.5,929.8 L910.9,929.7 L912.2,929.5 L913.6,929.4 L915.0,929.2 L916.0,804.5 L917.1,830.0 L918.2,856.4 L919.4,882.3 L920.5,888.0 L921.6,892.2 L922.8,895.2 L923.9,898.2 L925.0,900.1 L926.1,901.8 L927.2,903.5 L928.4,905.3 L929.5,907.0 L930.6,908.2 L931.8,908.9 L932.9,909.7 L934.0,910.4 L935.1,911.2 L936.2,911.9 L937.4,912.7 L938.5,913.2 L939.6,913.5 L940.8,913.8 L941.9,914.0 L943.0,914.3 L944.1,914.6 L945.2,914.9 L946.4,915.2 L947.5,915.4 L948.6,915.7 L949.8,916.0 L950.9,916.3 L952.0,916.4 L953.1,916.6 L954.2,916.7 L955.4,916.8 L956.5,917.0 L957.6,917.1 L958.8,917.2 L959.9,917.4 L961.0,917.5 L962.5,973.0 L963.8,967.9 L965.1,962.7 L966.4,957.6 L967.8,954.9 L969.1,952.3 L970.4,949.6 L971.7,947.3 L973.0,946.3 L974.3,945.4 L975.6,944.4 L976.9,943.5 L978.2,942.6 L979.6,941.6 L980.9,940.7 L982.2,939.8 L983.5,939.1 L984.8,938.6 L986.1,938.1 L987.4,937.6 L988.8,937.1 L990.1,936.6 L991.4,936.0 L992.7,935.5 L994.0,935.0 L995.3,934.5 L996.6,934.3 L997.9,934.2 L999.2,934.0 L1000.6,933.9 L1001.9,933.8 L1003.2,933.6 L1004.5,933.5 L1005.8,933.4 L1007.1,933.2 L1008.4,933.1 L1009.8,932.9 L1011.1,932.8 L1012.4,932.7 L1013.7,932.5 L1015.0,932.4 L1015.5,823.7 L1016.7,846.2 L1017.9,870.0 L1019.1,889.2 L1020.3,894.2 L1021.5,897.3 L1022.7,899.9 L1023.9,902.2 L1025.1,903.7 L1026.3,905.3 L1027.5,906.8 L1028.7,908.3 L1029.9,909.5 L1031.1,910.2 L1032.3,910.9 L1033.5,911.5 L1034.7,912.2 L1035.9,912.8 L1037.1,913.5 L1038.3,913.9 L1039.5,914.1 L1040.7,914.3 L1041.9,914.6 L1043.1,914.8 L1044.3,915.0 L1045.5,915.3 L1046.7,915.5 L1047.9,915.8 L1049.1,916.0 L1050.3,916.2 L1051.5,916.4 L1052.7,916.5 L1053.9,916.6 L1055.1,916.7 L1056.3,916.8 L1057.5,916.9 L1058.7,917.0 L1059.9,917.2 L1061.1,917.3 L1062.3,917.4 L1063.5,917.5 L1065.0,973.0 L1066.1,968.8 L1067.2,964.6 L1068.3,960.4 L1069.3,956.8 L1070.4,954.7 L1071.5,952.5 L1072.6,950.3 L1073.7,948.2 L1074.8,947.0 L1075.9,946.2 L1077.0,945.4 L1078.0,944.6 L1079.1,943.9 L1080.2,943.1 L1081.3,942.3 L1082.4,941.5 L1083.5,940.7 L1084.6,939.9 L1085.7,939.3 L1086.8,938.9 L1087.8,938.4 L1088.9,938.0 L1090.0,937.6 L1091.1,937.1 L1092.2,936.7 L1093.3,936.2 L1094.4,935.8 L1095.5,935.3 L1096.5,934.9 L1097.6,934.5 L1098.7,934.2 L1099.8,934.1 L1100.9,933.9 L1102.0,933.8 L1103.1,933.7 L1104.2,933.5 L1105.2,933.4 L1106.3,933.3 L1107.4,933.1 L1108.5,933.0 L1109.2,812.8 L1110.6,842.3 L1112.1,874.7 L1113.5,887.7 L1114.9,892.7 L1116.4,896.1 L1117.8,899.0 L1119.2,900.9 L1120.7,902.9 L1122.1,904.9 L1123.5,906.6 L1125.0,907.4 L1126.4,908.3 L1127.8,909.1 L1129.3,909.9 L1130.7,910.8 L1132.1,911.2 L1133.6,911.5 L1135.0,911.8 L1136.4,912.1 L1137.8,912.4 L1139.3,912.7 L1140.7,913.0 L1142.1,913.3 L1143.6,913.6 L1145.0,913.7 L1146.4,913.9 L1147.9,914.0 L1149.3,914.1 L1150.7,914.2 L1152.2,914.4 L1153.6,914.5 L1155.0,914.6 L1156.5,914.7 L1157.9,914.9 L1159.3,915.0 L1160.8,915.1 L1162.2,915.2 L1163.6,915.4 L1165.1,915.5 L1166.5,915.6 L1168.0,967.6 L1169.2,963.5 L1170.5,959.4 L1171.7,955.3 L1172.9,952.7 L1174.1,950.6 L1175.3,948.5 L1176.6,946.4 L1177.8,945.2 L1179.0,944.5 L1180.2,943.7 L1181.5,943.0 L1182.7,942.2 L1183.9,941.5 L1185.2,940.7 L1186.4,940.0 L1187.6,939.2 L1188.8,938.7 L1190.0,938.3 L1191.3,937.8 L1192.5,937.4 L1193.7,937.0 L1195.0,936.6 L1196.2,936.2 L1197.4,935.7 L1198.6,935.3 L1199.8,934.9 L1201.1,934.5 L1202.3,934.4 L1203.5,934.3 L1204.8,934.2 L1206.0,934.0 L1207.2,933.9 L1208.4,933.8 L1209.7,933.7 L1210.9,933.6 L1212.1,933.5 L1213.3,933.3 L1214.5,933.2 L1215.8,933.1 L1217.0,933.0 L1217.6,820.4 L1218.7,842.9 L1219.9,866.3 L1221.0,888.8 L1222.1,893.8 L1223.3,897.4 L1224.4,900.1 L1225.5,902.7 L1226.7,904.3 L1227.8,905.8 L1228.9,907.4 L1230.1,908.9 L1231.2,910.4 L1232.4,911.4 L1233.5,912.0 L1234.6,912.7 L1235.8,913.4 L1236.9,914.0 L1238.0,914.7 L1239.2,915.3 L1240.3,915.8 L1241.4,916.0 L1242.6,916.2 L1243.7,916.5 L1244.8,916.7 L1246.0,917.0 L1247.1,917.2 L1248.2,917.5 L1249.4,917.7 L1250.5,918.0 L1251.7,918.2 L1252.8,918.4 L1253.9,918.5 L1255.1,918.7 L1256.2,918.8 L1257.3,918.9 L1258.5,919.0 L1259.6,919.1 L1260.7,919.3 L1261.9,919.4 L1263.0,919.5 L1264.5,967.6 L1265.7,963.7 L1266.8,959.8 L1268.0,955.8 L1269.2,953.0 L1270.4,951.0 L1271.5,949.0 L1272.7,947.0 L1273.9,945.4 L1275.1,944.7 L1276.2,944.0 L1277.4,943.2 L1278.6,942.5 L1279.8,941.8 L1281.0,941.1 L1282.1,940.3 L1283.3,939.6 L1284.5,938.9 L1285.7,938.5 L1286.8,938.1 L1288.0,937.7 L1289.2,937.3 L1290.3,936.9 L1291.5,936.4 L1292.7,936.0 L1293.9,935.6 L1295.0,935.2 L1296.2,934.8 L1297.4,934.4 L1298.6,934.3 L1299.8,934.2 L1300.9,934.0 L1302.1,933.9 L1303.3,933.8 L1304.5,933.7 L1305.6,933.6 L1306.8,933.5 L1308.0,933.3 L1309.2,933.2 L1310.3,933.1 L1311.5,933.0 L1312.5,797.6 L1314.2,839.4 L1315.9,882.7 L1317.6,891.9 L1319.2,896.7 L1320.9,901.1 L1322.6,903.9 L1324.3,906.6 L1326.0,909.4 L1327.7,911.1 L1329.4,912.3 L1331.1,913.4 L1332.8,914.6 L1334.4,915.8 L1336.1,916.2 L1337.8,916.6 L1339.5,917.0 L1341.2,917.4 L1342.9,917.8 L1344.6,918.2 L1346.2,918.6 L1347.9,919.0 L1349.6,919.1 L1351.3,919.3 L1353.0,919.5 L1354.7,919.6 L1356.4,919.8 L1358.1,920.0 L1359.8,920.1 L1361.4,920.3 L1363.1,920.5 L1364.8,920.6 L1366.5,920.8" fill="none" stroke="#00FF00" stroke-width="5" stroke-linejoin="round" stroke-linecap="butt" />
<path d="M253.0,718.0 L253.5,862.0 L255.0,875.0 L258.5,892.0 L261.0,903.0 L263.5,914.0 L266.0,925.0 L270.0,935.0 L273.5,943.5 L278.0,948.5 L283.0,949.5 L288.0,948.5 L292.0,944.5 L296.0,938.0 L299.5,931.0 L300.3,258.1 L304.4,254.0 L305.5,281.3 L306.6,308.6 L307.7,325.0 L308.8,341.4 L309.9,356.4 L311.0,371.4 L312.1,382.8 L313.2,394.1 L314.3,403.8 L315.4,412.3 L316.5,420.9 L317.6,429.4 L318.7,437.9 L319.8,443.7 L320.9,449.0 L322.0,455.0 L323.1,461.0 L324.2,466.9 L325.3,470.8 L326.4,474.7 L327.6,478.5 L328.7,482.0 L329.8,485.4 L330.9,488.8 L332.0,492.1 L333.1,495.2 L334.2,498.3 L335.3,501.3 L336.4,504.2 L337.5,506.5 L338.6,508.8 L339.7,511.1 L340.8,513.4 L341.9,515.6 L343.0,517.8 L344.1,519.9 L345.2,522.1 L346.3,524.3 L347.4,525.6 L348.5,527.0 L349.4,758.7 L350.3,832.4 L351.2,864.9 L352.1,882.8 L353.0,898.5 L353.9,903.8 L354.7,909.1 L355.6,914.3 L356.5,919.4 L357.4,922.2 L358.3,924.9 L359.2,927.7 L360.1,930.4 L361.0,933.2 L361.9,936.0 L362.8,938.7 L363.7,941.1 L364.6,942.5 L365.4,943.9 L366.3,945.3 L367.2,946.7 L368.1,948.1 L369.0,949.5 L369.9,950.9 L370.8,952.2 L371.7,953.6 L372.6,954.2 L373.5,954.7 L374.4,955.3 L375.2,955.8 L376.1,956.4 L377.0,956.8 L377.9,957.0 L378.8,957.3 L379.7,957.5 L380.6,957.7 L381.5,958.0 L382.4,957.9 L383.3,957.7 L384.2,957.4 L385.1,957.0 L385.9,956.4 L386.8,955.8 L387.7,955.1 L388.6,954.2 L389.5,953.3 L390.4,952.3 L391.3,951.2 L392.2,950.1 L393.1,948.8 L394.0,947.5 L394.9,946.1 L395.8,944.6 L396.6,943.0 L397.5,941.3 L398.4,939.6 L399.3,937.8 L400.2,936.0 L401.1,934.0 L402.0,932.0 L402.8,270.4 L407.0,266.5 L408.1,292.5 L409.1,318.6 L410.2,334.2 L411.2,349.9 L412.3,364.2 L413.3,378.5 L414.4,389.4 L415.4,400.2 L416.5,409.4 L417.6,417.6 L418.6,425.7 L419.7,433.9 L420.7,442.0 L421.8,447.5 L422.8,452.6 L423.9,458.3 L424.9,464.0 L426.0,469.7 L427.0,473.4 L428.1,477.1 L429.2,480.8 L430.2,484.0 L431.3,487.3 L432.3,490.5 L433.4,493.7 L434.4,496.7 L435.5,499.6 L436.5,502.5 L437.6,505.3 L438.6,507.5 L439.7,509.6 L440.8,511.8 L441.8,514.0 L442.9,516.1 L443.9,518.2 L445.0,520.3 L446.0,522.3 L447.1,524.4 L448.1,525.7 L449.2,527.0 L450.2,760.3 L451.2,834.5 L452.2,867.3 L453.3,885.2 L454.3,901.1 L455.3,906.4 L456.3,911.7 L457.3,917.0 L458.3,922.1 L459.3,924.9 L460.3,927.7 L461.4,930.5 L462.4,933.3 L463.4,936.0 L464.4,938.8 L465.4,941.6 L466.4,944.0 L467.4,945.4 L468.5,946.8 L469.5,948.2 L470.5,949.6 L471.5,951.0 L472.5,952.4 L473.5,953.8 L474.5,955.2 L475.5,956.6 L476.6,957.2 L477.6,957.7 L478.6,958.3 L479.6,958.8 L480.6,959.4 L481.6,959.8 L482.6,960.0 L483.7,960.3 L484.7,960.5 L485.7,960.7 L486.7,961.0 L487.7,960.9 L488.7,960.7 L489.7,960.4 L490.7,960.0 L491.8,959.4 L492.8,958.8 L493.8,958.1 L494.8,957.2 L495.8,956.3 L496.8,955.3 L497.8,954.2 L498.9,953.1 L499.9,951.8 L500.9,950.5 L501.9,949.1 L502.9,947.6 L503.9,946.0 L504.9,944.3 L505.9,942.6 L507.0,940.8 L508.0,939.0 L509.0,937.0 L510.0,935.0 L510.8,263.2 L514.2,259.2 L515.3,285.7 L516.3,312.2 L517.4,328.0 L518.5,343.9 L519.6,358.5 L520.6,373.1 L521.7,384.1 L522.8,395.1 L523.8,404.5 L524.9,412.8 L526.0,421.1 L527.0,429.3 L528.1,437.6 L529.2,443.2 L530.2,448.4 L531.3,454.2 L532.4,460.0 L533.5,465.7 L534.5,469.5 L535.6,473.3 L536.7,477.0 L537.7,480.3 L538.8,483.6 L539.9,486.9 L541.0,490.2 L542.0,493.2 L543.1,496.1 L544.2,499.1 L545.2,501.9 L546.3,504.1 L547.4,506.3 L548.4,508.6 L549.5,510.8 L550.6,512.9 L551.6,515.0 L552.7,517.1 L553.8,519.2 L554.9,521.4 L555.9,522.7 L557.0,524.0 L557.8,760.7 L558.6,836.0 L559.4,869.2 L560.2,887.4 L561.0,903.5 L561.8,908.9 L562.5,914.3 L563.3,919.7 L564.1,924.9 L564.9,927.7 L565.7,930.5 L566.5,933.3 L567.3,936.1 L568.1,939.0 L568.9,941.8 L569.7,944.6 L570.5,947.1 L571.2,948.5 L572.0,949.9 L572.8,951.3 L573.6,952.7 L574.4,954.2 L575.2,955.6 L576.0,957.0 L576.8,958.4 L577.6,959.8 L578.4,960.4 L579.2,961.0 L580.0,961.5 L580.8,962.1 L581.5,962.6 L582.3,963.1 L583.1,963.3 L583.9,963.5 L584.7,963.8 L585.5,964.0 L586.3,964.3 L587.1,964.3 L587.9,964.2 L588.7,964.0 L589.5,963.8 L590.2,963.5 L591.0,963.2 L591.8,962.8 L592.6,962.4 L593.4,962.0 L594.2,961.5 L595.0,961.0 L595.8,960.4 L596.6,959.8 L597.4,959.1 L598.2,958.4 L599.0,957.7 L599.8,956.9 L600.5,956.1 L601.3,955.3 L602.1,954.4 L602.9,953.4 L603.7,952.5 L604.5,951.5 L605.3,288.4 L610.7,284.7 L611.8,309.5 L612.9,334.4 L614.0,349.3 L615.1,364.2 L616.2,377.8 L617.3,391.5 L618.5,401.8 L619.6,412.2 L620.7,421.0 L621.8,428.7 L622.9,436.5 L624.0,444.2 L625.1,452.0 L626.2,457.3 L627.3,462.1 L628.4,467.5 L629.5,472.9 L630.6,478.4 L631.7,481.9 L632.9,485.5 L634.0,488.9 L635.1,492.0 L636.2,495.1 L637.3,498.2 L638.4,501.3 L639.5,504.1 L640.6,506.9 L641.7,509.7 L642.8,512.3 L643.9,514.4 L645.0,516.4 L646.1,518.5 L647.2,520.6 L648.4,522.6 L649.5,524.6 L650.6,526.6 L651.7,528.5 L652.8,530.5 L653.9,531.8 L655.0,533.0 L655.8,766.1 L656.7,840.2 L657.5,872.9 L658.3,890.8 L659.2,906.7 L660.0,912.0 L660.8,917.3 L661.7,922.6 L662.5,927.7 L663.3,930.5 L664.2,933.2 L665.0,936.0 L665.8,938.8 L666.7,941.6 L667.5,944.3 L668.3,947.1 L669.2,949.5 L670.0,950.9 L670.8,952.3 L671.7,953.7 L672.5,955.1 L673.3,956.5 L674.2,957.9 L675.0,959.3 L675.8,960.7 L676.7,962.1 L677.5,962.7 L678.3,963.2 L679.2,963.8 L680.0,964.3 L680.8,964.9 L681.7,965.3 L682.5,965.5 L683.3,965.8 L684.2,966.0 L685.0,966.2 L685.8,966.5 L686.7,966.5 L687.5,966.3 L688.3,966.1 L689.2,965.8 L690.0,965.5 L690.8,965.0 L691.7,964.6 L692.5,964.0 L693.3,963.4 L694.2,962.8 L695.0,962.0 L695.8,961.3 L696.7,960.5 L697.5,959.6 L698.3,958.6 L699.2,957.7 L700.0,956.6 L700.8,955.5 L701.7,954.4 L702.5,953.2 L703.3,952.0 L704.2,950.7 L705.0,949.4 L705.8,281.2 L708.7,277.3 L709.9,303.1 L711.0,328.8 L712.2,344.3 L713.3,359.8 L714.5,373.9 L715.6,388.1 L716.8,398.8 L718.0,409.6 L719.1,418.7 L720.3,426.8 L721.4,434.8 L722.6,442.9 L723.7,450.9 L724.9,456.4 L726.1,461.4 L727.2,467.0 L728.4,472.7 L729.5,478.3 L730.7,482.0 L731.9,485.7 L733.0,489.3 L734.2,492.5 L735.3,495.7 L736.5,498.9 L737.6,502.1 L738.8,505.0 L740.0,507.9 L741.1,510.8 L742.3,513.5 L743.4,515.7 L744.6,517.8 L745.7,520.0 L746.9,522.1 L748.1,524.2 L749.2,526.3 L750.4,528.3 L751.5,530.4 L752.7,532.4 L753.8,533.7 L755.0,535.0 L755.9,767.0 L756.8,840.8 L757.6,873.3 L758.5,891.2 L759.4,907.0 L760.2,912.2 L761.1,917.5 L762.0,922.8 L762.9,927.9 L763.8,930.6 L764.6,933.4 L765.5,936.1 L766.4,938.9 L767.2,941.7 L768.1,944.4 L769.0,947.2 L769.9,949.6 L770.8,951.0 L771.6,952.4 L772.5,953.8 L773.4,955.2 L774.2,956.6 L775.1,958.0 L776.0,959.3 L776.9,960.7 L777.8,962.1 L778.6,962.7 L779.5,963.2 L780.4,963.8 L781.2,964.3 L782.1,964.9 L783.0,965.3 L783.9,965.5 L784.8,965.8 L785.6,966.0 L786.5,966.2 L787.4,966.5 L788.2,966.5 L789.1,966.3 L790.0,966.1 L790.9,965.8 L791.8,965.5 L792.6,965.1 L793.5,964.6 L794.4,964.1 L795.2,963.5 L796.1,962.9 L797.0,962.2 L797.9,961.5 L798.8,960.7 L799.6,959.8 L800.5,958.9 L801.4,958.0 L802.2,957.0 L803.1,955.9 L804.0,954.8 L804.9,953.7 L805.8,952.5 L806.6,951.3 L807.5,950.0 L808.3,268.5 L813.1,264.5 L814.3,291.2 L815.6,318.0 L816.8,334.0 L818.1,350.1 L819.3,364.8 L820.6,379.5 L821.8,390.7 L823.1,401.8 L824.3,411.3 L825.6,419.6 L826.8,428.0 L828.1,436.4 L829.3,444.7 L830.6,450.4 L831.8,455.6 L833.1,461.4 L834.3,467.3 L835.6,473.1 L836.8,477.0 L838.0,480.8 L839.3,484.5 L840.5,487.9 L841.8,491.2 L843.0,494.6 L844.3,497.8 L845.5,500.8 L846.8,503.8 L848.0,506.9 L849.3,509.7 L850.5,511.9 L851.8,514.2 L853.0,516.4 L854.3,518.6 L855.5,520.8 L856.8,522.9 L858.0,525.1 L859.3,527.2 L860.5,529.3 L861.8,530.7 L863.0,532.0 L863.8,764.4 L864.5,838.3 L865.3,871.0 L866.1,888.8 L866.8,904.6 L867.6,909.9 L868.4,915.2 L869.1,920.5 L869.9,925.6 L870.7,928.4 L871.4,931.1 L872.2,933.9 L873.0,936.7 L873.7,939.4 L874.5,942.2 L875.3,945.0 L876.0,947.4 L876.8,948.8 L877.6,950.2 L878.3,951.6 L879.1,952.9 L879.9,954.3 L880.6,955.7 L881.4,957.1 L882.2,958.5 L882.9,959.9 L883.7,960.5 L884.5,961.0 L885.2,961.6 L886.0,962.1 L886.8,962.7 L887.5,963.1 L888.3,963.3 L889.1,963.6 L889.8,963.8 L890.6,964.0 L891.4,964.3 L892.1,964.3 L892.9,964.2 L893.7,964.0 L894.4,963.7 L895.2,963.4 L896.0,963.1 L896.7,962.7 L897.5,962.2 L898.3,961.7 L899.0,961.2 L899.8,960.6 L900.6,959.9 L901.3,959.2 L902.1,958.5 L902.9,957.7 L903.6,956.9 L904.4,956.0 L905.2,955.1 L905.9,954.2 L906.7,953.2 L907.5,952.2 L908.2,951.1 L909.0,950.0 L909.8,305.3 L913.9,301.8 L915.2,325.4 L916.4,349.0 L917.7,363.2 L918.9,377.4 L920.2,390.4 L921.4,403.4 L922.7,413.2 L923.9,423.0 L925.2,431.4 L926.4,438.8 L927.7,446.2 L928.9,453.6 L930.2,460.9 L931.4,466.0 L932.7,470.5 L933.9,475.7 L935.2,480.9 L936.4,486.0 L937.7,489.4 L939.0,492.8 L940.2,496.1 L941.5,499.0 L942.7,502.0 L944.0,504.9 L945.2,507.8 L946.5,510.5 L947.7,513.1 L949.0,515.8 L950.2,518.3 L951.5,520.3 L952.7,522.3 L954.0,524.2 L955.2,526.2 L956.5,528.1 L957.7,530.0 L959.0,531.9 L960.2,533.8 L961.5,535.6 L962.7,536.8 L964.0,538.0 L964.8,764.9 L965.6,837.0 L966.4,868.9 L967.2,886.3 L968.0,901.8 L968.8,906.9 L969.6,912.1 L970.4,917.2 L971.2,922.2 L972.0,924.9 L972.8,927.6 L973.6,930.3 L974.4,933.0 L975.2,935.7 L976.0,938.4 L976.8,941.1 L977.6,943.5 L978.4,944.8 L979.2,946.2 L980.0,947.6 L980.8,948.9 L981.6,950.3 L982.4,951.6 L983.2,953.0 L984.0,954.4 L984.8,955.7 L985.6,956.3 L986.4,956.8 L987.2,957.3 L988.0,957.9 L988.8,958.4 L989.6,958.8 L990.4,959.0 L991.2,959.3 L992.0,959.5 L992.8,959.7 L993.6,960.0 L994.4,960.0 L995.2,959.8 L996.0,959.7 L996.8,959.4 L997.6,959.1 L998.4,958.7 L999.2,958.3 L1000.0,957.8 L1000.8,957.3 L1001.6,956.7 L1002.4,956.1 L1003.2,955.4 L1004.0,954.7 L1004.8,953.9 L1005.6,953.1 L1006.4,952.2 L1007.2,951.3 L1008.0,950.4 L1008.8,949.4 L1009.6,948.4 L1010.4,947.3 L1011.2,946.2 L1012.0,945.0 L1012.8,315.6 L1017.3,312.4 L1018.4,333.9 L1019.6,355.4 L1020.7,368.4 L1021.8,381.3 L1022.9,393.1 L1024.1,404.9 L1025.2,413.9 L1026.3,422.9 L1027.5,430.5 L1028.6,437.2 L1029.7,443.9 L1030.9,450.7 L1032.0,457.4 L1033.1,462.0 L1034.2,466.1 L1035.4,470.8 L1036.5,475.5 L1037.6,480.3 L1038.8,483.3 L1039.9,486.4 L1041.0,489.4 L1042.2,492.1 L1043.3,494.8 L1044.4,497.5 L1045.5,500.1 L1046.7,502.5 L1047.8,505.0 L1048.9,507.4 L1050.1,509.7 L1051.2,511.5 L1052.3,513.3 L1053.5,515.0 L1054.6,516.8 L1055.7,518.6 L1056.8,520.3 L1058.0,522.0 L1059.1,523.7 L1060.2,525.4 L1061.4,526.5 L1062.5,527.6 L1063.3,755.5 L1064.2,828.0 L1065.0,860.0 L1065.9,877.5 L1066.8,893.0 L1067.6,898.2 L1068.5,903.4 L1069.3,908.5 L1070.2,913.5 L1071.0,916.3 L1071.8,919.0 L1072.7,921.7 L1073.5,924.4 L1074.4,927.1 L1075.2,929.8 L1076.1,932.5 L1077.0,934.9 L1077.8,936.3 L1078.7,937.6 L1079.5,939.0 L1080.3,940.4 L1081.2,941.7 L1082.0,943.1 L1082.9,944.5 L1083.8,945.8 L1084.6,947.2 L1085.5,947.8 L1086.3,948.3 L1087.2,948.8 L1088.0,949.4 L1088.8,949.9 L1089.7,950.3 L1090.5,950.5 L1091.4,950.8 L1092.2,951.0 L1093.1,951.2 L1094.0,951.5 L1094.8,951.5 L1095.7,951.4 L1096.5,951.3 L1097.3,951.1 L1098.2,951.0 L1099.0,950.7 L1099.9,950.5 L1100.8,950.2 L1101.6,949.9 L1102.5,949.6 L1103.3,949.2 L1104.2,948.8 L1105.0,948.4 L1105.8,947.9 L1106.7,947.4 L1107.5,946.9 L1108.4,946.4 L1109.2,945.8 L1110.1,945.2 L1111.0,944.6 L1111.8,944.0 L1112.7,943.3 L1113.5,942.6 L1114.3,301.5 L1118.4,298.0 L1119.5,321.1 L1120.6,344.1 L1121.7,358.0 L1122.9,371.8 L1124.0,384.5 L1125.1,397.2 L1126.2,406.8 L1127.3,416.4 L1128.4,424.6 L1129.6,431.8 L1130.7,439.0 L1131.8,446.2 L1132.9,453.4 L1134.0,458.3 L1135.1,462.8 L1136.2,467.9 L1137.4,472.9 L1138.5,477.9 L1139.6,481.2 L1140.7,484.5 L1141.8,487.8 L1142.9,490.6 L1144.0,493.5 L1145.2,496.4 L1146.3,499.2 L1147.4,501.8 L1148.5,504.4 L1149.6,507.0 L1150.7,509.5 L1151.8,511.4 L1153.0,513.3 L1154.1,515.2 L1155.2,517.2 L1156.3,519.1 L1157.4,520.9 L1158.5,522.7 L1159.7,524.6 L1160.8,526.4 L1161.9,527.5 L1163.0,528.7 L1163.8,747.1 L1164.7,816.5 L1165.5,847.2 L1166.3,864.0 L1167.1,878.8 L1168.0,883.8 L1168.8,888.8 L1169.6,893.7 L1170.4,898.5 L1171.2,901.1 L1172.1,903.7 L1172.9,906.3 L1173.7,908.9 L1174.5,911.5 L1175.4,914.1 L1176.2,916.7 L1177.0,919.0 L1177.8,920.3 L1178.7,921.6 L1179.5,922.9 L1180.3,924.2 L1181.2,925.5 L1182.0,926.9 L1182.8,928.2 L1183.6,929.5 L1184.5,930.8 L1185.3,931.3 L1186.1,931.8 L1186.9,932.3 L1187.8,932.9 L1188.6,933.4 L1189.4,933.8 L1190.2,934.0 L1191.0,934.2 L1191.9,934.4 L1192.7,934.6 L1193.5,934.9 L1194.3,934.9 L1195.2,934.9 L1196.0,934.8 L1196.8,934.7 L1197.7,934.7 L1198.5,934.6 L1199.3,934.5 L1200.1,934.3 L1201.0,934.2 L1201.8,934.0 L1202.6,933.9 L1203.4,933.7 L1204.2,933.5 L1205.1,933.3 L1205.9,933.1 L1206.7,932.9 L1207.5,932.6 L1208.4,932.4 L1209.2,932.1 L1210.0,931.9 L1210.8,931.6 L1211.7,931.3 L1212.5,931.0 L1213.3,306.8 L1218.4,303.5 L1219.6,325.6 L1220.7,347.8 L1221.9,361.0 L1223.1,374.3 L1224.2,386.5 L1225.4,398.7 L1226.6,407.9 L1227.7,417.1 L1228.9,424.9 L1230.1,431.9 L1231.2,438.8 L1232.4,445.7 L1233.5,452.6 L1234.7,457.3 L1235.9,461.6 L1237.0,466.4 L1238.2,471.3 L1239.4,476.1 L1240.5,479.3 L1241.7,482.4 L1242.9,485.5 L1244.0,488.3 L1245.2,491.1 L1246.4,493.8 L1247.5,496.5 L1248.7,499.0 L1249.9,501.5 L1251.0,504.0 L1252.2,506.4 L1253.3,508.2 L1254.5,510.0 L1255.7,511.9 L1256.8,513.7 L1258.0,515.5 L1259.2,517.3 L1260.3,519.1 L1261.5,520.8 L1262.7,522.6 L1263.8,523.7 L1265.0,524.8 L1265.9,743.2 L1266.9,812.6 L1267.8,843.3 L1268.7,860.1 L1269.7,874.9 L1270.6,879.9 L1271.5,884.9 L1272.5,889.8 L1273.4,894.6 L1274.3,897.2 L1275.3,899.8 L1276.2,902.4 L1277.1,905.0 L1278.1,907.6 L1279.0,910.2 L1279.9,912.8 L1280.9,915.1 L1281.8,916.4 L1282.7,917.7 L1283.7,919.0 L1284.6,920.3 L1285.5,921.6 L1286.5,923.0 L1287.4,924.3 L1288.3,925.6 L1289.3,926.9 L1290.2,927.4 L1291.1,927.9 L1292.1,928.4 L1293.0,929.0 L1293.9,929.5 L1294.9,929.9 L1295.8,930.1 L1296.7,930.3 L1297.7,930.5 L1298.6,930.7 L1299.5,931.0 L1300.5,931.0 L1301.4,930.9 L1302.3,930.7 L1303.3,930.5 L1304.2,930.2 L1305.1,929.9 L1306.1,929.5 L1307.0,929.1 L1307.9,928.6 L1308.9,928.1 L1309.8,927.5 L1310.7,926.9 L1311.7,926.3 L1312.6,925.6 L1313.5,924.8 L1314.5,924.1 L1315.4,923.3 L1316.3,922.4 L1317.3,921.5 L1318.2,920.6 L1319.1,919.6 L1320.1,918.6 L1321.0,917.6 L1321.8,311.3 L1327.1,308.3 L1328.1,328.4 L1329.0,348.4 L1330.0,360.5 L1331.0,372.5 L1332.0,383.6 L1332.9,394.6 L1333.9,403.0 L1334.9,411.3 L1335.9,418.4 L1336.8,424.7 L1337.8,431.0 L1338.8,437.2 L1339.7,443.5 L1340.7,447.8 L1341.7,451.7 L1342.7,456.1 L1343.6,460.5 L1344.6,464.8 L1345.6,467.7 L1346.5,470.6 L1347.5,473.4 L1348.5,475.9 L1349.5,478.4 L1350.4,480.9 L1351.4,483.4 L1352.4,485.6 L1353.4,487.9 L1354.3,490.1 L1355.3,492.3 L1356.3,493.9 L1357.2,495.6 L1358.2,497.3 L1359.2,499.0 L1360.2,500.6 L1361.1,502.2 L1362.1,503.8 L1363.1,505.4 L1364.1,507.0 L1365.0,508.0 L1366.0,509.0 L1367.6,509.0 L1367.6,571.0" fill="none" stroke="#FF8000" stroke-width="5.5" stroke-linejoin="round" stroke-linecap="butt" />
</g>
<line x1="1109.70" y1="249.50" x2="1109.70" y2="410.00" stroke="#000" stroke-width="3" stroke-linecap="butt"/>
<path d="M1102,406 L1117.5,406 L1109.7,434 Z" fill="#000"/>
<line x1="1168.50" y1="362.60" x2="1168.50" y2="596.00" stroke="#000" stroke-width="3" stroke-linecap="butt"/>
<path d="M1161,592.5 L1176,592.5 L1168.5,618.5 Z" fill="#000"/>
<rect x="252" y="1332.3" width="1115.5" height="862.5000000000002" fill="none" stroke="#000" stroke-width="5.5"/>
<line x1="252.00" y1="2194.80" x2="252.00" y2="2215.50" stroke="#000" stroke-width="5.5" stroke-linecap="butt"/>
<line x1="344.96" y1="2194.80" x2="344.96" y2="2207.00" stroke="#000" stroke-width="5.5" stroke-linecap="butt"/>
<line x1="437.92" y1="2194.80" x2="437.92" y2="2215.50" stroke="#000" stroke-width="5.5" stroke-linecap="butt"/>
<line x1="530.87" y1="2194.80" x2="530.87" y2="2207.00" stroke="#000" stroke-width="5.5" stroke-linecap="butt"/>
<line x1="623.83" y1="2194.80" x2="623.83" y2="2215.50" stroke="#000" stroke-width="5.5" stroke-linecap="butt"/>
<line x1="716.79" y1="2194.80" x2="716.79" y2="2207.00" stroke="#000" stroke-width="5.5" stroke-linecap="butt"/>
<line x1="809.75" y1="2194.80" x2="809.75" y2="2215.50" stroke="#000" stroke-width="5.5" stroke-linecap="butt"/>
<line x1="902.71" y1="2194.80" x2="902.71" y2="2207.00" stroke="#000" stroke-width="5.5" stroke-linecap="butt"/>
<line x1="995.66" y1="2194.80" x2="995.66" y2="2215.50" stroke="#000" stroke-width="5.5" stroke-linecap="butt"/>
<line x1="1088.62" y1="2194.80" x2="1088.62" y2="2207.00" stroke="#000" stroke-width="5.5" stroke-linecap="butt"/>
<line x1="1181.58" y1="2194.80" x2="1181.58" y2="2215.50" stroke="#000" stroke-width="5.5" stroke-linecap="butt"/>
<line x1="1274.54" y1="2194.80" x2="1274.54" y2="2207.00" stroke="#000" stroke-width="5.5" stroke-linecap="butt"/>
<line x1="1367.50" y1="2194.80" x2="1367.50" y2="2215.50" stroke="#000" stroke-width="5.5" stroke-linecap="butt"/>
<defs><clipPath id="clipB"><rect x="251.5" y="1332" width="1118" height="863"/></clipPath></defs>
<g clip-path="url(#clipB)">
<path d="M254.0,2177.2 L256.5,2176.7 L259.0,2176.3 L261.5,2176.0 L264.0,2175.9 L266.5,2175.9 L269.0,2176.1 L271.5,2176.3 L274.0,2176.6 L276.5,2177.0 L279.0,2177.5 L281.5,2178.0 L284.0,2178.6 L286.5,2179.2 L289.0,2179.9 L291.5,2180.5 L294.0,2181.2 L296.5,2181.9 L299.0,2182.6 L301.5,2183.2 L304.0,2183.8 L306.5,2184.4 L309.0,2184.9 L311.5,2185.3 L314.0,2185.7 L316.5,2186.0 L319.0,2186.2 L321.5,2186.4 L324.0,2186.6 L326.5,2186.7 L329.0,2186.9 L331.5,2187.1 L334.0,2187.3 L336.5,2187.6 L339.0,2187.9 L341.5,2188.3 L344.0,2188.9 L346.5,2189.5 L349.0,2190.2 L351.5,2190.8 L354.0,2191.2 L356.5,2191.3 L359.0,2190.9 L361.5,2189.9 L364.0,2188.2 L366.5,2185.7 L369.0,2182.5 L371.5,2178.8 L374.0,2174.8 L376.5,2170.9 L379.0,2166.8 L381.5,2162.7 L384.0,2158.5 L386.5,2154.2 L389.0,2149.7 L391.5,2145.1 L394.0,2140.3 L396.5,2135.4 L399.0,2130.3 L401.5,2125.0 L404.0,2119.5 L406.5,2113.8 L409.0,2107.9 L411.5,2101.7 L414.0,2095.2 L416.5,2088.4 L419.0,2081.3 L421.5,2073.9 L424.0,2066.0 L426.5,2057.6 L429.0,2048.8 L431.5,2039.4 L434.0,2029.5 L436.5,2019.0 L439.0,2007.8 L441.5,1995.9 L444.0,1983.5 L446.5,1971.2 L449.0,1959.6 L451.5,1949.1 L454.0,1939.9 L456.5,1931.5 L459.0,1923.3 L461.5,1915.1 L464.0,1906.6 L466.5,1897.7 L469.0,1888.3 L471.5,1878.3 L474.0,1867.9 L476.5,1857.3 L479.0,1847.0 L481.5,1837.0 L484.0,1827.6 L486.5,1818.7 L489.0,1810.1 L491.5,1801.8 L494.0,1793.9 L496.5,1786.2 L499.0,1778.8 L501.5,1771.7 L504.0,1764.7 L506.5,1758.0 L509.0,1751.5 L511.5,1745.2 L514.0,1739.1 L516.5,1733.1 L519.0,1727.3 L521.5,1721.7 L524.0,1716.2 L526.5,1710.9 L529.0,1705.7 L531.5,1700.6 L534.0,1695.7 L536.5,1690.9 L539.0,1686.2 L541.5,1681.6 L544.0,1677.2 L546.5,1672.8 L549.0,1668.6 L551.5,1664.4 L554.0,1660.4 L556.5,1656.4 L559.0,1652.5 L561.5,1648.6 L564.0,1644.8 L566.5,1641.1 L569.0,1637.4 L571.5,1633.8 L574.0,1630.3 L576.5,1626.7 L579.0,1623.2 L581.5,1619.7 L584.0,1616.3 L586.5,1612.8 L589.0,1609.4 L591.5,1606.0 L594.0,1602.5 L596.5,1599.1 L599.0,1595.6 L601.5,1592.2 L604.0,1588.7 L606.5,1585.2 L609.0,1581.6 L611.5,1578.0 L614.0,1574.3 L616.5,1570.6 L619.0,1566.8 L621.5,1562.9 L624.0,1558.9 L626.5,1554.9 L629.0,1550.7 L631.5,1546.3 L634.0,1541.9 L636.5,1537.3 L639.0,1532.6 L641.5,1527.7 L644.0,1522.8 L646.5,1517.9 L649.0,1512.9 L651.5,1508.0 L654.0,1503.1 L656.5,1498.2 L659.0,1493.5 L661.5,1488.9 L664.0,1484.4 L666.5,1480.1 L669.0,1476.1 L671.5,1472.3 L674.0,1468.7 L676.5,1465.4 L679.0,1462.2 L681.5,1459.4 L684.0,1456.7 L686.5,1454.3 L689.0,1452.1 L691.5,1450.1 L694.0,1448.4 L696.5,1446.8 L699.0,1445.5 L701.5,1444.4 L704.0,1443.5 L706.5,1442.8 L709.0,1442.4 L711.5,1442.1 L714.0,1442.1 L716.5,1442.2 L719.0,1442.6 L721.5,1443.2 L724.0,1443.9 L726.5,1444.9 L729.0,1446.1 L731.5,1447.4 L734.0,1449.0 L736.5,1450.8 L739.0,1452.7 L741.5,1454.9 L744.0,1457.3 L746.5,1459.8 L749.0,1462.5 L751.5,1465.5 L754.0,1468.6 L756.5,1471.9 L759.0,1475.4 L761.5,1479.1 L764.0,1482.9 L766.5,1487.0 L769.0,1491.2 L771.5,1495.6 L774.0,1500.1 L776.5,1504.8 L779.0,1509.6 L781.5,1514.6 L784.0,1519.6 L786.5,1524.6 L789.0,1529.8 L791.5,1534.9 L794.0,1540.1 L796.5,1545.3 L799.0,1550.5 L801.5,1555.6 L804.0,1560.7 L806.5,1565.7 L809.0,1570.7 L811.5,1575.6 L814.0,1580.4 L816.5,1585.1 L819.0,1589.7 L821.5,1594.2 L824.0,1598.6 L826.5,1602.9 L829.0,1607.1 L831.5,1611.2 L834.0,1615.1 L836.5,1618.9 L839.0,1622.6 L841.5,1626.1 L844.0,1629.5 L846.5,1632.7 L849.0,1635.8 L851.5,1638.8 L854.0,1641.7 L856.5,1644.5 L859.0,1647.2 L861.5,1649.9 L864.0,1652.4 L866.5,1654.9 L869.0,1657.3 L871.5,1659.7 L874.0,1662.1 L876.5,1664.4 L879.0,1666.6 L881.5,1668.9 L884.0,1671.2 L886.5,1673.4 L889.0,1675.7 L891.5,1678.0 L894.0,1680.3 L896.5,1682.7 L899.0,1685.1 L901.5,1687.5 L904.0,1690.0 L906.5,1692.6 L909.0,1695.2 L911.5,1698.0 L914.0,1700.8 L916.5,1703.7 L919.0,1706.6 L921.5,1709.6 L924.0,1712.7 L926.5,1715.8 L929.0,1718.9 L931.5,1722.1 L934.0,1725.2 L936.5,1728.3 L939.0,1731.5 L941.5,1734.6 L944.0,1737.6 L946.5,1740.6 L949.0,1743.6 L951.5,1746.5 L954.0,1749.4 L956.5,1752.2 L959.0,1755.1 L961.5,1757.9 L964.0,1760.8 L966.5,1763.6 L969.0,1766.5 L971.5,1769.5 L974.0,1772.4 L976.5,1775.5 L979.0,1778.6 L981.5,1781.8 L984.0,1785.1 L986.5,1788.5 L989.0,1792.0 L991.5,1795.5 L994.0,1799.2 L996.5,1802.9 L999.0,1806.6 L1001.5,1810.4 L1004.0,1814.3 L1006.5,1818.2 L1009.0,1822.1 L1011.5,1826.1 L1014.0,1830.1 L1016.5,1834.1 L1019.0,1838.1 L1021.5,1842.1 L1024.0,1846.0 L1026.5,1850.0 L1029.0,1854.0 L1031.5,1857.9 L1034.0,1861.8 L1036.5,1865.7 L1039.0,1869.5 L1041.5,1873.2 L1044.0,1876.9 L1046.5,1880.6 L1049.0,1884.2 L1051.5,1887.7 L1054.0,1891.1 L1056.5,1894.4 L1059.0,1897.6 L1061.5,1900.8 L1064.0,1903.8 L1066.5,1906.7 L1069.0,1909.5 L1071.5,1912.2 L1074.0,1914.7 L1076.5,1917.2 L1079.0,1919.6 L1081.5,1922.0 L1084.0,1924.3 L1086.5,1926.5 L1089.0,1928.8 L1091.5,1931.0 L1094.0,1933.3 L1096.5,1935.6 L1099.0,1938.0 L1101.5,1940.3 L1104.0,1942.7 L1106.5,1945.1 L1109.0,1947.6 L1111.5,1950.0 L1114.0,1952.4 L1116.5,1954.8 L1119.0,1957.2 L1121.5,1959.7 L1124.0,1962.0 L1126.5,1964.4 L1129.0,1966.8 L1131.5,1969.1 L1134.0,1971.5 L1136.5,1973.8 L1139.0,1976.1 L1141.5,1978.4 L1144.0,1980.7 L1146.5,1983.0 L1149.0,1985.2 L1151.5,1987.5 L1154.0,1989.7 L1156.5,1992.0 L1159.0,1994.2 L1161.5,1996.5 L1164.0,1998.7 L1166.5,2000.9 L1169.0,2003.1 L1171.5,2005.3 L1174.0,2007.6 L1176.5,2009.8 L1179.0,2012.0 L1181.5,2014.2 L1184.0,2016.4 L1186.5,2018.6 L1189.0,2020.8 L1191.5,2023.0 L1194.0,2025.2 L1196.5,2027.4 L1199.0,2029.7 L1201.5,2031.9 L1204.0,2034.1 L1206.5,2036.3 L1209.0,2038.6 L1211.5,2040.8 L1214.0,2043.0 L1216.5,2045.3 L1219.0,2047.5 L1221.5,2049.8 L1224.0,2052.0 L1226.5,2054.3 L1229.0,2056.6 L1231.5,2058.9 L1234.0,2061.2 L1236.5,2063.5 L1239.0,2065.8 L1241.5,2068.1 L1244.0,2070.5 L1246.5,2072.8 L1249.0,2075.2 L1251.5,2077.5 L1254.0,2079.9 L1256.5,2082.3 L1259.0,2084.7 L1261.5,2087.2 L1264.0,2089.6 L1266.5,2092.1 L1269.0,2094.6 L1271.5,2097.0 L1274.0,2099.6 L1276.5,2102.1 L1279.0,2104.6 L1281.5,2107.2 L1284.0,2109.7 L1286.5,2112.3 L1289.0,2114.8 L1291.5,2117.3 L1294.0,2119.8 L1296.5,2122.3 L1299.0,2124.7 L1301.5,2127.1 L1304.0,2129.4 L1306.5,2131.6 L1309.0,2133.8 L1311.5,2135.9 L1314.0,2137.8 L1316.5,2139.7 L1319.0,2141.5 L1321.5,2143.2 L1324.0,2144.7 L1326.5,2146.1 L1329.0,2147.4 L1331.5,2148.5 L1334.0,2149.5 L1336.5,2150.4 L1339.0,2151.2 L1341.5,2151.9 L1344.0,2152.7 L1346.5,2153.4 L1349.0,2154.1 L1351.5,2154.9 L1354.0,2155.8 L1356.5,2156.7 L1359.0,2157.8 L1361.5,2159.1 L1364.0,2160.5 L1366.0,2161.7 L1370.0,2164.3" fill="none" stroke="#00FF00" stroke-width="3.8" stroke-linejoin="round" stroke-linecap="butt" />
<path d="M254.0,2146.8 L256.5,2146.6 L259.0,2146.4 L261.5,2146.4 L264.0,2146.4 L266.5,2146.4 L269.0,2146.5 L271.5,2146.7 L274.0,2146.9 L276.5,2147.2 L279.0,2147.5 L281.5,2147.8 L284.0,2148.2 L286.5,2148.6 L289.0,2149.1 L291.5,2149.5 L294.0,2150.0 L296.5,2150.5 L299.0,2151.0 L301.5,2151.5 L304.0,2152.0 L306.5,2152.5 L309.0,2153.0 L311.5,2153.5 L314.0,2153.9 L316.5,2154.3 L319.0,2154.8 L321.5,2155.1 L324.0,2155.5 L326.5,2155.8 L329.0,2156.1 L331.5,2156.3 L334.0,2156.4 L336.5,2156.6 L339.0,2156.6 L341.5,2156.6 L344.0,2156.5 L346.5,2156.3 L349.0,2156.0 L351.5,2155.5 L354.0,2154.8 L356.5,2153.9 L359.0,2152.8 L361.5,2151.4 L364.0,2149.8 L366.5,2147.8 L369.0,2145.5 L371.5,2143.0 L374.0,2140.2 L376.5,2137.2 L379.0,2134.0 L381.5,2130.7 L384.0,2127.3 L386.5,2123.7 L389.0,2120.0 L391.5,2116.1 L394.0,2112.1 L396.5,2107.9 L399.0,2103.5 L401.5,2099.0 L404.0,2094.2 L406.5,2089.3 L409.0,2084.2 L411.5,2078.8 L414.0,2073.3 L416.5,2067.5 L419.0,2061.5 L421.5,2055.3 L424.0,2048.8 L426.5,2042.1 L429.0,2035.3 L431.5,2028.2 L434.0,2020.9 L436.5,2013.4 L439.0,2005.8 L441.5,1998.0 L444.0,1990.0 L446.5,1981.9 L449.0,1973.7 L451.5,1965.4 L454.0,1956.9 L456.5,1948.3 L459.0,1939.7 L461.5,1931.0 L464.0,1922.4 L466.5,1913.8 L469.0,1905.3 L471.5,1896.9 L474.0,1888.7 L476.5,1880.6 L479.0,1872.9 L481.5,1865.4 L484.0,1858.2 L486.5,1851.3 L489.0,1844.9 L491.5,1838.7 L494.0,1832.8 L496.5,1827.2 L499.0,1821.9 L501.5,1816.7 L504.0,1811.8 L506.5,1807.0 L509.0,1802.4 L511.5,1797.9 L514.0,1793.5 L516.5,1789.2 L519.0,1785.0 L521.5,1780.8 L524.0,1776.7 L526.5,1772.6 L529.0,1768.6 L531.5,1764.7 L534.0,1760.8 L536.5,1757.0 L539.0,1753.2 L541.5,1749.4 L544.0,1745.7 L546.5,1742.1 L549.0,1738.4 L551.5,1734.9 L554.0,1731.3 L556.5,1727.8 L559.0,1724.3 L561.5,1720.8 L564.0,1717.4 L566.5,1713.9 L569.0,1710.5 L571.5,1707.1 L574.0,1703.8 L576.5,1700.4 L579.0,1697.0 L581.5,1693.7 L584.0,1690.3 L586.5,1686.9 L589.0,1683.6 L591.5,1680.2 L594.0,1676.8 L596.5,1673.4 L599.0,1669.9 L601.5,1666.4 L604.0,1662.8 L606.5,1659.1 L609.0,1655.4 L611.5,1651.6 L614.0,1647.7 L616.5,1643.7 L619.0,1639.6 L621.5,1635.4 L624.0,1631.0 L626.5,1626.6 L629.0,1622.1 L631.5,1617.6 L634.0,1613.0 L636.5,1608.4 L639.0,1603.8 L641.5,1599.3 L644.0,1594.8 L646.5,1590.3 L649.0,1586.0 L651.5,1581.7 L654.0,1577.5 L656.5,1573.5 L659.0,1569.5 L661.5,1565.7 L664.0,1562.1 L666.5,1558.5 L669.0,1555.1 L671.5,1551.8 L674.0,1548.7 L676.5,1545.7 L679.0,1542.9 L681.5,1540.2 L684.0,1537.6 L686.5,1535.2 L689.0,1533.0 L691.5,1530.9 L694.0,1529.0 L696.5,1527.2 L699.0,1525.6 L701.5,1524.2 L704.0,1523.0 L706.5,1521.9 L709.0,1521.0 L711.5,1520.3 L714.0,1519.8 L716.5,1519.4 L719.0,1519.3 L721.5,1519.3 L724.0,1519.5 L726.5,1520.0 L729.0,1520.6 L731.5,1521.3 L734.0,1522.3 L736.5,1523.4 L739.0,1524.6 L741.5,1526.1 L744.0,1527.7 L746.5,1529.4 L749.0,1531.3 L751.5,1533.4 L754.0,1535.6 L756.5,1537.9 L759.0,1540.4 L761.5,1543.0 L764.0,1545.7 L766.5,1548.5 L769.0,1551.5 L771.5,1554.6 L774.0,1557.8 L776.5,1561.1 L779.0,1564.6 L781.5,1568.1 L784.0,1571.7 L786.5,1575.5 L789.0,1579.3 L791.5,1583.2 L794.0,1587.1 L796.5,1591.1 L799.0,1595.1 L801.5,1599.2 L804.0,1603.2 L806.5,1607.2 L809.0,1611.2 L811.5,1615.1 L814.0,1619.0 L816.5,1622.8 L819.0,1626.5 L821.5,1630.1 L824.0,1633.5 L826.5,1636.9 L829.0,1640.1 L831.5,1643.3 L834.0,1646.3 L836.5,1649.3 L839.0,1652.1 L841.5,1654.9 L844.0,1657.7 L846.5,1660.4 L849.0,1663.0 L851.5,1665.6 L854.0,1668.1 L856.5,1670.7 L859.0,1673.2 L861.5,1675.7 L864.0,1678.1 L866.5,1680.6 L869.0,1683.0 L871.5,1685.5 L874.0,1687.9 L876.5,1690.3 L879.0,1692.7 L881.5,1695.1 L884.0,1697.4 L886.5,1699.8 L889.0,1702.2 L891.5,1704.5 L894.0,1706.9 L896.5,1709.2 L899.0,1711.6 L901.5,1713.9 L904.0,1716.3 L906.5,1718.6 L909.0,1720.9 L911.5,1723.3 L914.0,1725.6 L916.5,1728.0 L919.0,1730.4 L921.5,1732.7 L924.0,1735.1 L926.5,1737.5 L929.0,1739.9 L931.5,1742.3 L934.0,1744.7 L936.5,1747.1 L939.0,1749.5 L941.5,1752.0 L944.0,1754.5 L946.5,1756.9 L949.0,1759.4 L951.5,1762.0 L954.0,1764.5 L956.5,1767.1 L959.0,1769.6 L961.5,1772.2 L964.0,1774.8 L966.5,1777.5 L969.0,1780.2 L971.5,1782.9 L974.0,1785.6 L976.5,1788.3 L979.0,1791.1 L981.5,1793.9 L984.0,1796.8 L986.5,1799.6 L989.0,1802.5 L991.5,1805.5 L994.0,1808.5 L996.5,1811.5 L999.0,1814.5 L1001.5,1817.6 L1004.0,1820.7 L1006.5,1823.9 L1009.0,1827.0 L1011.5,1830.2 L1014.0,1833.4 L1016.5,1836.7 L1019.0,1839.9 L1021.5,1843.1 L1024.0,1846.4 L1026.5,1849.6 L1029.0,1852.8 L1031.5,1856.0 L1034.0,1859.1 L1036.5,1862.3 L1039.0,1865.4 L1041.5,1868.4 L1044.0,1871.4 L1046.5,1874.4 L1049.0,1877.4 L1051.5,1880.3 L1054.0,1883.1 L1056.5,1885.9 L1059.0,1888.7 L1061.5,1891.5 L1064.0,1894.2 L1066.5,1896.9 L1069.0,1899.6 L1071.5,1902.2 L1074.0,1904.8 L1076.5,1907.4 L1079.0,1910.0 L1081.5,1912.6 L1084.0,1915.1 L1086.5,1917.7 L1089.0,1920.2 L1091.5,1922.7 L1094.0,1925.2 L1096.5,1927.7 L1099.0,1930.2 L1101.5,1932.7 L1104.0,1935.2 L1106.5,1937.6 L1109.0,1940.1 L1111.5,1942.5 L1114.0,1944.9 L1116.5,1947.3 L1119.0,1949.7 L1121.5,1952.0 L1124.0,1954.4 L1126.5,1956.7 L1129.0,1958.9 L1131.5,1961.2 L1134.0,1963.4 L1136.5,1965.6 L1139.0,1967.8 L1141.5,1969.9 L1144.0,1972.0 L1146.5,1974.0 L1149.0,1976.1 L1151.5,1978.1 L1154.0,1980.0 L1156.5,1981.9 L1159.0,1983.8 L1161.5,1985.7 L1164.0,1987.6 L1166.5,1989.4 L1169.0,1991.2 L1171.5,1993.1 L1174.0,1994.9 L1176.5,1996.7 L1179.0,1998.5 L1181.5,2000.4 L1184.0,2002.2 L1186.5,2004.1 L1189.0,2006.0 L1191.5,2007.8 L1194.0,2009.8 L1196.5,2011.7 L1199.0,2013.7 L1201.5,2015.7 L1204.0,2017.7 L1206.5,2019.8 L1209.0,2021.9 L1211.5,2024.0 L1214.0,2026.2 L1216.5,2028.3 L1219.0,2030.5 L1221.5,2032.7 L1224.0,2034.9 L1226.5,2037.2 L1229.0,2039.4 L1231.5,2041.7 L1234.0,2043.9 L1236.5,2046.2 L1239.0,2048.5 L1241.5,2050.7 L1244.0,2053.0 L1246.5,2055.3 L1249.0,2057.5 L1251.5,2059.8 L1254.0,2062.0 L1256.5,2064.3 L1259.0,2066.5 L1261.5,2068.7 L1264.0,2070.9 L1266.5,2073.1 L1269.0,2075.2 L1271.5,2077.4 L1274.0,2079.5 L1276.5,2081.5 L1279.0,2083.6 L1281.5,2085.6 L1284.0,2087.6 L1286.5,2089.5 L1289.0,2091.5 L1291.5,2093.3 L1294.0,2095.2 L1296.5,2096.9 L1299.0,2098.7 L1301.5,2100.4 L1304.0,2102.0 L1306.5,2103.6 L1309.0,2105.2 L1311.5,2106.7 L1314.0,2108.1 L1316.5,2109.5 L1319.0,2110.8 L1321.5,2112.1 L1324.0,2113.4 L1326.5,2114.6 L1329.0,2115.7 L1331.5,2116.8 L1334.0,2117.9 L1336.5,2118.9 L1339.0,2119.8 L1341.5,2120.7 L1344.0,2121.6 L1346.5,2122.4 L1349.0,2123.2 L1351.5,2123.9 L1354.0,2124.6 L1356.5,2125.2 L1359.0,2125.8 L1361.5,2126.3 L1364.0,2126.8 L1366.0,2127.1 L1370.0,2127.8" fill="none" stroke="#FF0080" stroke-width="3.8" stroke-linejoin="round" stroke-linecap="butt" />
<path d="M254.0,2154.0 L256.5,2153.5 L259.0,2153.2 L261.5,2152.9 L264.0,2152.7 L266.5,2152.7 L269.0,2152.7 L271.5,2152.7 L274.0,2152.9 L276.5,2153.1 L279.0,2153.4 L281.5,2153.7 L284.0,2154.1 L286.5,2154.6 L289.0,2155.0 L291.5,2155.5 L294.0,2156.1 L296.5,2156.6 L299.0,2157.2 L301.5,2157.8 L304.0,2158.4 L306.5,2159.0 L309.0,2159.6 L311.5,2160.2 L314.0,2160.7 L316.5,2161.3 L319.0,2161.8 L321.5,2162.3 L324.0,2162.7 L326.5,2163.1 L329.0,2163.5 L331.5,2163.8 L334.0,2164.1 L336.5,2164.3 L339.0,2164.4 L341.5,2164.4 L344.0,2164.4 L346.5,2164.2 L349.0,2164.0 L351.5,2163.7 L354.0,2163.3 L356.5,2162.8 L359.0,2162.1 L361.5,2161.4 L364.0,2160.5 L366.5,2159.5 L369.0,2158.3 L371.5,2157.0 L374.0,2155.6 L376.5,2154.0 L379.0,2152.3 L381.5,2150.4 L384.0,2148.3 L386.5,2146.0 L389.0,2143.6 L391.5,2141.0 L394.0,2138.3 L396.5,2135.4 L399.0,2132.3 L401.5,2129.0 L404.0,2125.7 L406.5,2122.1 L409.0,2118.4 L411.5,2114.6 L414.0,2110.7 L416.5,2106.6 L419.0,2102.3 L421.5,2098.0 L424.0,2093.5 L426.5,2088.9 L429.0,2084.2 L431.5,2079.4 L434.0,2074.5 L436.5,2069.4 L439.0,2064.3 L441.5,2059.0 L444.0,2053.7 L446.5,2048.3 L449.0,2042.8 L451.5,2037.2 L454.0,2031.5 L456.5,2025.7 L459.0,2019.9 L461.5,2014.0 L464.0,2008.1 L466.5,2002.2 L469.0,1996.3 L471.5,1990.3 L474.0,1984.5 L476.5,1978.6 L479.0,1972.8 L481.5,1967.1 L484.0,1961.5 L486.5,1955.9 L489.0,1950.5 L491.5,1945.2 L494.0,1940.1 L496.5,1935.1 L499.0,1930.4 L501.5,1925.7 L504.0,1921.3 L506.5,1917.0 L509.0,1912.9 L511.5,1909.0 L514.0,1905.3 L516.5,1901.7 L519.0,1898.4 L521.5,1895.2 L524.0,1892.2 L526.5,1889.4 L529.0,1886.7 L531.5,1884.2 L534.0,1881.8 L536.5,1879.5 L539.0,1877.3 L541.5,1875.0 L544.0,1872.9 L546.5,1870.7 L549.0,1868.5 L551.5,1866.4 L554.0,1864.3 L556.5,1862.2 L559.0,1860.2 L561.5,1858.1 L564.0,1856.1 L566.5,1854.2 L569.0,1852.2 L571.5,1850.3 L574.0,1848.4 L576.5,1846.6 L579.0,1844.7 L581.5,1842.9 L584.0,1841.2 L586.5,1839.5 L589.0,1837.8 L591.5,1836.1 L594.0,1834.5 L596.5,1832.9 L599.0,1831.4 L601.5,1829.8 L604.0,1828.4 L606.5,1826.9 L609.0,1825.5 L611.5,1824.1 L614.0,1822.7 L616.5,1821.4 L619.0,1820.0 L621.5,1818.6 L624.0,1817.3 L626.5,1815.9 L629.0,1814.6 L631.5,1813.2 L634.0,1811.8 L636.5,1810.4 L639.0,1808.9 L641.5,1807.5 L644.0,1806.0 L646.5,1804.5 L649.0,1803.1 L651.5,1801.7 L654.0,1800.3 L656.5,1799.0 L659.0,1797.8 L661.5,1796.6 L664.0,1795.5 L666.5,1794.5 L669.0,1793.6 L671.5,1792.8 L674.0,1792.1 L676.5,1791.5 L679.0,1790.9 L681.5,1790.4 L684.0,1790.0 L686.5,1789.7 L689.0,1789.5 L691.5,1789.4 L694.0,1789.4 L696.5,1789.4 L699.0,1789.5 L701.5,1789.7 L704.0,1790.0 L706.5,1790.4 L709.0,1790.9 L711.5,1791.4 L714.0,1792.0 L716.5,1792.7 L719.0,1793.5 L721.5,1794.4 L724.0,1795.4 L726.5,1796.4 L729.0,1797.5 L731.5,1798.8 L734.0,1800.0 L736.5,1801.4 L739.0,1802.9 L741.5,1804.4 L744.0,1806.0 L746.5,1807.7 L749.0,1809.5 L751.5,1811.4 L754.0,1813.3 L756.5,1815.3 L759.0,1817.4 L761.5,1819.6 L764.0,1821.8 L766.5,1824.1 L769.0,1826.5 L771.5,1828.9 L774.0,1831.3 L776.5,1833.8 L779.0,1836.4 L781.5,1838.9 L784.0,1841.5 L786.5,1844.2 L789.0,1846.8 L791.5,1849.5 L794.0,1852.2 L796.5,1854.9 L799.0,1857.6 L801.5,1860.3 L804.0,1862.9 L806.5,1865.6 L809.0,1868.3 L811.5,1870.9 L814.0,1873.5 L816.5,1876.1 L819.0,1878.7 L821.5,1881.2 L824.0,1883.7 L826.5,1886.1 L829.0,1888.5 L831.5,1890.8 L834.0,1893.1 L836.5,1895.4 L839.0,1897.6 L841.5,1899.8 L844.0,1901.9 L846.5,1904.0 L849.0,1906.0 L851.5,1908.0 L854.0,1910.0 L856.5,1911.9 L859.0,1913.8 L861.5,1915.7 L864.0,1917.5 L866.5,1919.3 L869.0,1921.1 L871.5,1922.8 L874.0,1924.5 L876.5,1926.2 L879.0,1927.9 L881.5,1929.5 L884.0,1931.1 L886.5,1932.6 L889.0,1934.2 L891.5,1935.7 L894.0,1937.2 L896.5,1938.6 L899.0,1940.1 L901.5,1941.5 L904.0,1942.9 L906.5,1944.3 L909.0,1945.6 L911.5,1947.0 L914.0,1948.3 L916.5,1949.6 L919.0,1950.9 L921.5,1952.2 L924.0,1953.5 L926.5,1954.7 L929.0,1956.0 L931.5,1957.2 L934.0,1958.4 L936.5,1959.6 L939.0,1960.8 L941.5,1962.0 L944.0,1963.2 L946.5,1964.4 L949.0,1965.6 L951.5,1966.8 L954.0,1968.0 L956.5,1969.2 L959.0,1970.4 L961.5,1971.6 L964.0,1972.8 L966.5,1974.1 L969.0,1975.3 L971.5,1976.6 L974.0,1977.9 L976.5,1979.2 L979.0,1980.6 L981.5,1982.0 L984.0,1983.4 L986.5,1984.8 L989.0,1986.3 L991.5,1987.8 L994.0,1989.4 L996.5,1991.0 L999.0,1992.6 L1001.5,1994.3 L1004.0,1996.0 L1006.5,1997.8 L1009.0,1999.6 L1011.5,2001.4 L1014.0,2003.2 L1016.5,2005.0 L1019.0,2006.7 L1021.5,2008.5 L1024.0,2010.2 L1026.5,2011.9 L1029.0,2013.6 L1031.5,2015.3 L1034.0,2017.0 L1036.5,2018.6 L1039.0,2020.2 L1041.5,2021.8 L1044.0,2023.4 L1046.5,2025.0 L1049.0,2026.6 L1051.5,2028.1 L1054.0,2029.7 L1056.5,2031.2 L1059.0,2032.7 L1061.5,2034.2 L1064.0,2035.7 L1066.5,2037.1 L1069.0,2038.6 L1071.5,2040.0 L1074.0,2041.4 L1076.5,2042.8 L1079.0,2044.2 L1081.5,2045.6 L1084.0,2047.0 L1086.5,2048.4 L1089.0,2049.7 L1091.5,2051.0 L1094.0,2052.4 L1096.5,2053.7 L1099.0,2055.0 L1101.5,2056.3 L1104.0,2057.6 L1106.5,2058.8 L1109.0,2060.1 L1111.5,2061.4 L1114.0,2062.6 L1116.5,2063.8 L1119.0,2065.1 L1121.5,2066.3 L1124.0,2067.5 L1126.5,2068.7 L1129.0,2069.9 L1131.5,2071.1 L1134.0,2072.3 L1136.5,2073.4 L1139.0,2074.6 L1141.5,2075.8 L1144.0,2076.9 L1146.5,2078.1 L1149.0,2079.2 L1151.5,2080.4 L1154.0,2081.5 L1156.5,2082.6 L1159.0,2083.7 L1161.5,2084.9 L1164.0,2086.0 L1166.5,2087.1 L1169.0,2088.2 L1171.5,2089.3 L1174.0,2090.4 L1176.5,2091.5 L1179.0,2092.6 L1181.5,2093.7 L1184.0,2094.7 L1186.5,2095.8 L1189.0,2096.9 L1191.5,2098.0 L1194.0,2099.1 L1196.5,2100.2 L1199.0,2101.2 L1201.5,2102.3 L1204.0,2103.4 L1206.5,2104.5 L1209.0,2105.6 L1211.5,2106.6 L1214.0,2107.7 L1216.5,2108.8 L1219.0,2109.9 L1221.5,2110.9 L1224.0,2112.0 L1226.5,2113.1 L1229.0,2114.2 L1231.5,2115.3 L1234.0,2116.3 L1236.5,2117.4 L1239.0,2118.5 L1241.5,2119.6 L1244.0,2120.7 L1246.5,2121.8 L1249.0,2122.9 L1251.5,2124.0 L1254.0,2125.1 L1256.5,2126.2 L1259.0,2127.3 L1261.5,2128.4 L1264.0,2129.5 L1266.5,2130.6 L1269.0,2131.7 L1271.5,2132.8 L1274.0,2133.9 L1276.5,2135.1 L1279.0,2136.2 L1281.5,2137.3 L1284.0,2138.4 L1286.5,2139.6 L1289.0,2140.7 L1291.5,2141.8 L1294.0,2142.9 L1296.5,2144.0 L1299.0,2145.1 L1301.5,2146.1 L1304.0,2147.1 L1306.5,2148.2 L1309.0,2149.2 L1311.5,2150.1 L1314.0,2151.1 L1316.5,2152.0 L1319.0,2152.9 L1321.5,2153.7 L1324.0,2154.5 L1326.5,2155.3 L1329.0,2156.0 L1331.5,2156.7 L1334.0,2157.3 L1336.5,2157.9 L1339.0,2158.4 L1341.5,2158.9 L1344.0,2159.3 L1346.5,2159.7 L1349.0,2160.0 L1351.5,2160.2 L1354.0,2160.4 L1356.5,2160.5 L1359.0,2160.5 L1361.5,2160.5 L1364.0,2160.4 L1366.0,2160.2 L1370.0,2159.9" fill="none" stroke="#000000" stroke-width="3.8" stroke-linejoin="round" stroke-linecap="butt" />
<path d="M254.0,2180.9 L256.5,2180.7 L259.0,2180.4 L261.5,2180.3 L264.0,2180.1 L266.5,2180.0 L269.0,2179.9 L271.5,2179.8 L274.0,2179.7 L276.5,2179.7 L279.0,2179.7 L281.5,2179.7 L284.0,2179.8 L286.5,2179.8 L289.0,2179.9 L291.5,2180.0 L294.0,2180.1 L296.5,2180.2 L299.0,2180.3 L301.5,2180.4 L304.0,2180.6 L306.5,2180.7 L309.0,2180.9 L311.5,2181.0 L314.0,2181.2 L316.5,2181.4 L319.0,2181.5 L321.5,2181.7 L324.0,2181.8 L326.5,2182.0 L329.0,2182.1 L331.5,2182.3 L334.0,2182.4 L336.5,2182.6 L339.0,2182.7 L341.5,2182.8 L344.0,2182.9 L346.5,2183.0 L349.0,2183.1 L351.5,2183.1 L354.0,2183.1 L356.5,2183.2 L359.0,2183.2 L361.5,2183.1 L364.0,2183.1 L366.5,2183.0 L369.0,2182.9 L371.5,2182.8 L374.0,2182.6 L376.5,2182.5 L379.0,2182.2 L381.5,2182.0 L384.0,2181.7 L386.5,2181.4 L389.0,2181.1 L391.5,2180.7 L394.0,2180.3 L396.5,2179.8 L399.0,2179.3 L401.5,2178.7 L404.0,2178.1 L406.5,2177.5 L409.0,2176.8 L411.5,2176.1 L414.0,2175.3 L416.5,2174.5 L419.0,2173.6 L421.5,2172.7 L424.0,2171.8 L426.5,2170.8 L429.0,2169.8 L431.5,2168.7 L434.0,2167.6 L436.5,2166.5 L439.0,2165.4 L441.5,2164.2 L444.0,2163.0 L446.5,2161.8 L449.0,2160.6 L451.5,2159.3 L454.0,2158.0 L456.5,2156.8 L459.0,2155.5 L461.5,2154.1 L464.0,2152.8 L466.5,2151.5 L469.0,2150.2 L471.5,2148.8 L474.0,2147.5 L476.5,2146.1 L479.0,2144.8 L481.5,2143.5 L484.0,2142.1 L486.5,2140.8 L489.0,2139.5 L491.5,2138.3 L494.0,2137.0 L496.5,2135.8 L499.0,2134.7 L501.5,2133.6 L504.0,2132.5 L506.5,2131.5 L509.0,2130.5 L511.5,2129.6 L514.0,2128.7 L516.5,2127.9 L519.0,2127.1 L521.5,2126.3 L524.0,2125.6 L526.5,2124.9 L529.0,2124.3 L531.5,2123.7 L534.0,2123.2 L536.5,2122.7 L539.0,2122.2 L541.5,2121.7 L544.0,2121.3 L546.5,2120.9 L549.0,2120.5 L551.5,2120.1 L554.0,2119.7 L556.5,2119.4 L559.0,2119.0 L561.5,2118.7 L564.0,2118.3 L566.5,2118.0 L569.0,2117.6 L571.5,2117.3 L574.0,2116.9 L576.5,2116.6 L579.0,2116.3 L581.5,2115.9 L584.0,2115.6 L586.5,2115.2 L589.0,2114.9 L591.5,2114.5 L594.0,2114.2 L596.5,2113.9 L599.0,2113.5 L601.5,2113.2 L604.0,2112.8 L606.5,2112.5 L609.0,2112.1 L611.5,2111.8 L614.0,2111.5 L616.5,2111.1 L619.0,2110.8 L621.5,2110.4 L624.0,2110.1 L626.5,2109.8 L629.0,2109.5 L631.5,2109.2 L634.0,2108.8 L636.5,2108.5 L639.0,2108.2 L641.5,2108.0 L644.0,2107.7 L646.5,2107.4 L649.0,2107.1 L651.5,2106.9 L654.0,2106.7 L656.5,2106.4 L659.0,2106.2 L661.5,2106.0 L664.0,2105.8 L666.5,2105.6 L669.0,2105.5 L671.5,2105.3 L674.0,2105.2 L676.5,2105.1 L679.0,2105.0 L681.5,2104.9 L684.0,2104.8 L686.5,2104.8 L689.0,2104.8 L691.5,2104.7 L694.0,2104.8 L696.5,2104.8 L699.0,2104.8 L701.5,2104.9 L704.0,2105.0 L706.5,2105.1 L709.0,2105.3 L711.5,2105.5 L714.0,2105.6 L716.5,2105.8 L719.0,2106.1 L721.5,2106.3 L724.0,2106.5 L726.5,2106.8 L729.0,2107.1 L731.5,2107.4 L734.0,2107.7 L736.5,2108.1 L739.0,2108.4 L741.5,2108.8 L744.0,2109.1 L746.5,2109.5 L749.0,2109.9 L751.5,2110.3 L754.0,2110.7 L756.5,2111.2 L759.0,2111.6 L761.5,2112.0 L764.0,2112.5 L766.5,2112.9 L769.0,2113.4 L771.5,2113.9 L774.0,2114.3 L776.5,2114.8 L779.0,2115.3 L781.5,2115.8 L784.0,2116.3 L786.5,2116.8 L789.0,2117.3 L791.5,2117.8 L794.0,2118.3 L796.5,2118.8 L799.0,2119.3 L801.5,2119.8 L804.0,2120.2 L806.5,2120.7 L809.0,2121.2 L811.5,2121.7 L814.0,2122.2 L816.5,2122.7 L819.0,2123.1 L821.5,2123.6 L824.0,2124.0 L826.5,2124.5 L829.0,2124.9 L831.5,2125.4 L834.0,2125.8 L836.5,2126.3 L839.0,2126.7 L841.5,2127.1 L844.0,2127.5 L846.5,2127.9 L849.0,2128.3 L851.5,2128.8 L854.0,2129.2 L856.5,2129.6 L859.0,2130.0 L861.5,2130.3 L864.0,2130.7 L866.5,2131.1 L869.0,2131.5 L871.5,2131.9 L874.0,2132.3 L876.5,2132.6 L879.0,2133.0 L881.5,2133.4 L884.0,2133.7 L886.5,2134.1 L889.0,2134.5 L891.5,2134.8 L894.0,2135.2 L896.5,2135.6 L899.0,2135.9 L901.5,2136.3 L904.0,2136.6 L906.5,2137.0 L909.0,2137.3 L911.5,2137.7 L914.0,2138.0 L916.5,2138.4 L919.0,2138.7 L921.5,2139.1 L924.0,2139.4 L926.5,2139.8 L929.0,2140.1 L931.5,2140.5 L934.0,2140.8 L936.5,2141.2 L939.0,2141.5 L941.5,2141.9 L944.0,2142.2 L946.5,2142.6 L949.0,2142.9 L951.5,2143.3 L954.0,2143.6 L956.5,2144.0 L959.0,2144.3 L961.5,2144.6 L964.0,2145.0 L966.5,2145.3 L969.0,2145.7 L971.5,2146.0 L974.0,2146.4 L976.5,2146.7 L979.0,2147.0 L981.5,2147.4 L984.0,2147.7 L986.5,2148.1 L989.0,2148.4 L991.5,2148.7 L994.0,2149.1 L996.5,2149.4 L999.0,2149.7 L1001.5,2150.1 L1004.0,2150.4 L1006.5,2150.8 L1009.0,2151.1 L1011.5,2151.4 L1014.0,2151.7 L1016.5,2152.1 L1019.0,2152.4 L1021.5,2152.7 L1024.0,2153.1 L1026.5,2153.4 L1029.0,2153.7 L1031.5,2154.0 L1034.0,2154.4 L1036.5,2154.7 L1039.0,2155.0 L1041.5,2155.3 L1044.0,2155.6 L1046.5,2156.0 L1049.0,2156.3 L1051.5,2156.6 L1054.0,2156.9 L1056.5,2157.2 L1059.0,2157.5 L1061.5,2157.8 L1064.0,2158.2 L1066.5,2158.5 L1069.0,2158.8 L1071.5,2159.1 L1074.0,2159.4 L1076.5,2159.7 L1079.0,2160.0 L1081.5,2160.3 L1084.0,2160.6 L1086.5,2160.9 L1089.0,2161.2 L1091.5,2161.5 L1094.0,2161.8 L1096.5,2162.1 L1099.0,2162.3 L1101.5,2162.6 L1104.0,2162.9 L1106.5,2163.2 L1109.0,2163.5 L1111.5,2163.8 L1114.0,2164.0 L1116.5,2164.3 L1119.0,2164.6 L1121.5,2164.9 L1124.0,2165.1 L1126.5,2165.4 L1129.0,2165.7 L1131.5,2166.0 L1134.0,2166.2 L1136.5,2166.5 L1139.0,2166.7 L1141.5,2167.0 L1144.0,2167.3 L1146.5,2167.5 L1149.0,2167.8 L1151.5,2168.0 L1154.0,2168.3 L1156.5,2168.5 L1159.0,2168.8 L1161.5,2169.0 L1164.0,2169.3 L1166.5,2169.5 L1169.0,2169.7 L1171.5,2170.0 L1174.0,2170.2 L1176.5,2170.4 L1179.0,2170.7 L1181.5,2170.9 L1184.0,2171.1 L1186.5,2171.3 L1189.0,2171.6 L1191.5,2171.8 L1194.0,2172.0 L1196.5,2172.2 L1199.0,2172.4 L1201.5,2172.6 L1204.0,2172.8 L1206.5,2173.0 L1209.0,2173.2 L1211.5,2173.4 L1214.0,2173.6 L1216.5,2173.8 L1219.0,2174.0 L1221.5,2174.2 L1224.0,2174.4 L1226.5,2174.6 L1229.0,2174.8 L1231.5,2174.9 L1234.0,2175.1 L1236.5,2175.3 L1239.0,2175.4 L1241.5,2175.6 L1244.0,2175.8 L1246.5,2175.9 L1249.0,2176.1 L1251.5,2176.3 L1254.0,2176.4 L1256.5,2176.6 L1259.0,2176.7 L1261.5,2176.9 L1264.0,2177.0 L1266.5,2177.1 L1269.0,2177.3 L1271.5,2177.4 L1274.0,2177.5 L1276.5,2177.7 L1279.0,2177.8 L1281.5,2177.9 L1284.0,2178.0 L1286.5,2178.1 L1289.0,2178.3 L1291.5,2178.4 L1294.0,2178.5 L1296.5,2178.6 L1299.0,2178.7 L1301.5,2178.8 L1304.0,2178.9 L1306.5,2179.0 L1309.0,2179.0 L1311.5,2179.1 L1314.0,2179.2 L1316.5,2179.3 L1319.0,2179.3 L1321.5,2179.4 L1324.0,2179.5 L1326.5,2179.5 L1329.0,2179.6 L1331.5,2179.7 L1334.0,2179.7 L1336.5,2179.8 L1339.0,2179.8 L1341.5,2179.9 L1344.0,2179.9 L1346.5,2179.9 L1349.0,2180.0 L1351.5,2180.0 L1354.0,2180.0 L1356.5,2180.0 L1359.0,2180.1 L1361.5,2180.1 L1364.0,2180.1 L1366.0,2180.1 L1370.0,2180.1" fill="none" stroke="#0000FF" stroke-width="3.8" stroke-linejoin="round" stroke-linecap="butt" />
<path d="M254.0,2188.2 L256.5,2188.4 L259.0,2188.5 L261.5,2188.5 L264.0,2188.6 L266.5,2188.7 L269.0,2188.7 L271.5,2188.7 L274.0,2188.7 L276.5,2188.7 L279.0,2188.7 L281.5,2188.7 L284.0,2188.7 L286.5,2188.7 L289.0,2188.7 L291.5,2188.6 L294.0,2188.6 L296.5,2188.6 L299.0,2188.5 L301.5,2188.5 L304.0,2188.4 L306.5,2188.4 L309.0,2188.3 L311.5,2188.3 L314.0,2188.2 L316.5,2188.2 L319.0,2188.2 L321.5,2188.1 L324.0,2188.1 L326.5,2188.1 L329.0,2188.1 L331.5,2188.1 L334.0,2188.1 L336.5,2188.1 L339.0,2188.2 L341.5,2188.2 L344.0,2188.3 L346.5,2188.3 L349.0,2188.4 L351.5,2188.5 L354.0,2188.5 L356.5,2188.6 L359.0,2188.6 L361.5,2188.7 L364.0,2188.7 L366.5,2188.7 L369.0,2188.6 L371.5,2188.6 L374.0,2188.5 L376.5,2188.4 L379.0,2188.2 L381.5,2188.0 L384.0,2187.7 L386.5,2187.4 L389.0,2187.0 L391.5,2186.6 L394.0,2186.1 L396.5,2185.6 L399.0,2185.0 L401.5,2184.3 L404.0,2183.6 L406.5,2182.7 L409.0,2181.8 L411.5,2180.9 L414.0,2179.9 L416.5,2178.8 L419.0,2177.7 L421.5,2176.5 L424.0,2175.3 L426.5,2174.0 L429.0,2172.7 L431.5,2171.3 L434.0,2169.9 L436.5,2168.5 L439.0,2167.0 L441.5,2165.5 L444.0,2163.9 L446.5,2162.4 L449.0,2160.8 L451.5,2159.2 L454.0,2157.5 L456.5,2155.9 L459.0,2154.2 L461.5,2152.5 L464.0,2150.8 L466.5,2149.1 L469.0,2147.4 L471.5,2145.7 L474.0,2144.0 L476.5,2142.3 L479.0,2140.6 L481.5,2138.9 L484.0,2137.3 L486.5,2135.6 L489.0,2134.0 L491.5,2132.3 L494.0,2130.7 L496.5,2129.2 L499.0,2127.6 L501.5,2126.1 L504.0,2124.6 L506.5,2123.2 L509.0,2121.8 L511.5,2120.4 L514.0,2119.1 L516.5,2117.8 L519.0,2116.6 L521.5,2115.5 L524.0,2114.4 L526.5,2113.3 L529.0,2112.4 L531.5,2111.4 L534.0,2110.6 L536.5,2109.8 L539.0,2109.1 L541.5,2108.4 L544.0,2107.7 L546.5,2107.1 L549.0,2106.5 L551.5,2106.0 L554.0,2105.4 L556.5,2105.0 L559.0,2104.5 L561.5,2104.0 L564.0,2103.6 L566.5,2103.1 L569.0,2102.7 L571.5,2102.3 L574.0,2101.8 L576.5,2101.4 L579.0,2101.0 L581.5,2100.6 L584.0,2100.2 L586.5,2099.8 L589.0,2099.4 L591.5,2099.0 L594.0,2098.6 L596.5,2098.2 L599.0,2097.8 L601.5,2097.4 L604.0,2097.0 L606.5,2096.6 L609.0,2096.2 L611.5,2095.7 L614.0,2095.3 L616.5,2094.8 L619.0,2094.4 L621.5,2093.9 L624.0,2093.5 L626.5,2093.0 L629.0,2092.6 L631.5,2092.1 L634.0,2091.6 L636.5,2091.2 L639.0,2090.8 L641.5,2090.3 L644.0,2089.9 L646.5,2089.5 L649.0,2089.1 L651.5,2088.7 L654.0,2088.3 L656.5,2087.9 L659.0,2087.5 L661.5,2087.2 L664.0,2086.9 L666.5,2086.5 L669.0,2086.3 L671.5,2086.0 L674.0,2085.7 L676.5,2085.5 L679.0,2085.3 L681.5,2085.1 L684.0,2085.0 L686.5,2084.8 L689.0,2084.7 L691.5,2084.7 L694.0,2084.6 L696.5,2084.6 L699.0,2084.6 L701.5,2084.7 L704.0,2084.8 L706.5,2084.9 L709.0,2085.1 L711.5,2085.3 L714.0,2085.5 L716.5,2085.7 L719.0,2086.0 L721.5,2086.3 L724.0,2086.6 L726.5,2087.0 L729.0,2087.4 L731.5,2087.8 L734.0,2088.2 L736.5,2088.6 L739.0,2089.1 L741.5,2089.6 L744.0,2090.1 L746.5,2090.6 L749.0,2091.1 L751.5,2091.7 L754.0,2092.2 L756.5,2092.8 L759.0,2093.4 L761.5,2094.0 L764.0,2094.6 L766.5,2095.3 L769.0,2095.9 L771.5,2096.5 L774.0,2097.2 L776.5,2097.8 L779.0,2098.5 L781.5,2099.1 L784.0,2099.8 L786.5,2100.5 L789.0,2101.1 L791.5,2101.8 L794.0,2102.5 L796.5,2103.1 L799.0,2103.8 L801.5,2104.5 L804.0,2105.1 L806.5,2105.8 L809.0,2106.4 L811.5,2107.0 L814.0,2107.7 L816.5,2108.3 L819.0,2108.9 L821.5,2109.5 L824.0,2110.1 L826.5,2110.6 L829.0,2111.2 L831.5,2111.8 L834.0,2112.3 L836.5,2112.8 L839.0,2113.4 L841.5,2113.9 L844.0,2114.4 L846.5,2114.9 L849.0,2115.4 L851.5,2115.9 L854.0,2116.4 L856.5,2116.9 L859.0,2117.3 L861.5,2117.8 L864.0,2118.3 L866.5,2118.7 L869.0,2119.2 L871.5,2119.6 L874.0,2120.1 L876.5,2120.5 L879.0,2121.0 L881.5,2121.4 L884.0,2121.8 L886.5,2122.3 L889.0,2122.7 L891.5,2123.1 L894.0,2123.6 L896.5,2124.0 L899.0,2124.4 L901.5,2124.9 L904.0,2125.3 L906.5,2125.7 L909.0,2126.1 L911.5,2126.6 L914.0,2127.0 L916.5,2127.4 L919.0,2127.9 L921.5,2128.3 L924.0,2128.8 L926.5,2129.2 L929.0,2129.7 L931.5,2130.1 L934.0,2130.6 L936.5,2131.0 L939.0,2131.5 L941.5,2131.9 L944.0,2132.4 L946.5,2132.9 L949.0,2133.3 L951.5,2133.8 L954.0,2134.3 L956.5,2134.7 L959.0,2135.2 L961.5,2135.7 L964.0,2136.2 L966.5,2136.6 L969.0,2137.1 L971.5,2137.6 L974.0,2138.1 L976.5,2138.6 L979.0,2139.0 L981.5,2139.5 L984.0,2140.0 L986.5,2140.5 L989.0,2141.0 L991.5,2141.5 L994.0,2141.9 L996.5,2142.4 L999.0,2142.9 L1001.5,2143.4 L1004.0,2143.9 L1006.5,2144.4 L1009.0,2144.8 L1011.5,2145.3 L1014.0,2145.8 L1016.5,2146.3 L1019.0,2146.8 L1021.5,2147.3 L1024.0,2147.7 L1026.5,2148.2 L1029.0,2148.7 L1031.5,2149.2 L1034.0,2149.7 L1036.5,2150.1 L1039.0,2150.6 L1041.5,2151.1 L1044.0,2151.5 L1046.5,2152.0 L1049.0,2152.5 L1051.5,2152.9 L1054.0,2153.4 L1056.5,2153.9 L1059.0,2154.3 L1061.5,2154.8 L1064.0,2155.2 L1066.5,2155.7 L1069.0,2156.1 L1071.5,2156.6 L1074.0,2157.0 L1076.5,2157.5 L1079.0,2157.9 L1081.5,2158.3 L1084.0,2158.8 L1086.5,2159.2 L1089.0,2159.6 L1091.5,2160.1 L1094.0,2160.5 L1096.5,2160.9 L1099.0,2161.3 L1101.5,2161.7 L1104.0,2162.1 L1106.5,2162.5 L1109.0,2162.9 L1111.5,2163.3 L1114.0,2163.7 L1116.5,2164.1 L1119.0,2164.4 L1121.5,2164.8 L1124.0,2165.2 L1126.5,2165.6 L1129.0,2165.9 L1131.5,2166.3 L1134.0,2166.6 L1136.5,2167.0 L1139.0,2167.3 L1141.5,2167.6 L1144.0,2168.0 L1146.5,2168.3 L1149.0,2168.6 L1151.5,2168.9 L1154.0,2169.2 L1156.5,2169.5 L1159.0,2169.8 L1161.5,2170.1 L1164.0,2170.4 L1166.5,2170.7 L1169.0,2171.0 L1171.5,2171.3 L1174.0,2171.5 L1176.5,2171.8 L1179.0,2172.1 L1181.5,2172.3 L1184.0,2172.6 L1186.5,2172.8 L1189.0,2173.1 L1191.5,2173.3 L1194.0,2173.5 L1196.5,2173.8 L1199.0,2174.0 L1201.5,2174.2 L1204.0,2174.5 L1206.5,2174.7 L1209.0,2174.9 L1211.5,2175.1 L1214.0,2175.3 L1216.5,2175.6 L1219.0,2175.8 L1221.5,2176.0 L1224.0,2176.2 L1226.5,2176.4 L1229.0,2176.6 L1231.5,2176.8 L1234.0,2177.0 L1236.5,2177.2 L1239.0,2177.4 L1241.5,2177.6 L1244.0,2177.8 L1246.5,2177.9 L1249.0,2178.1 L1251.5,2178.3 L1254.0,2178.5 L1256.5,2178.7 L1259.0,2178.9 L1261.5,2179.1 L1264.0,2179.2 L1266.5,2179.4 L1269.0,2179.6 L1271.5,2179.8 L1274.0,2180.0 L1276.5,2180.2 L1279.0,2180.4 L1281.5,2180.5 L1284.0,2180.7 L1286.5,2180.9 L1289.0,2181.1 L1291.5,2181.3 L1294.0,2181.5 L1296.5,2181.7 L1299.0,2181.9 L1301.5,2182.0 L1304.0,2182.2 L1306.5,2182.4 L1309.0,2182.6 L1311.5,2182.8 L1314.0,2183.0 L1316.5,2183.2 L1319.0,2183.4 L1321.5,2183.6 L1324.0,2183.8 L1326.5,2184.1 L1329.0,2184.3 L1331.5,2184.5 L1334.0,2184.7 L1336.5,2184.9 L1339.0,2185.1 L1341.5,2185.4 L1344.0,2185.6 L1346.5,2185.8 L1349.0,2186.1 L1351.5,2186.3 L1354.0,2186.5 L1356.5,2186.8 L1359.0,2187.0 L1361.5,2187.3 L1364.0,2187.6 L1366.0,2187.8 L1370.0,2188.2" fill="none" stroke="#FF8000" stroke-width="3.8" stroke-linejoin="round" stroke-linecap="butt" />
</g>
<text font-family="Liberation Sans" fill="#000" xml:space="preserve" transform="translate(207.80,2266.50) scale(0.9588,1)"><tspan font-size="55.4" font-weight="bold" dy="0">640</tspan></text>
<text font-family="Liberation Sans" fill="#000" xml:space="preserve" transform="translate(393.72,2266.50) scale(0.9588,1)"><tspan font-size="55.4" font-weight="bold" dy="0">660</tspan></text>
<text font-family="Liberation Sans" fill="#000" xml:space="preserve" transform="translate(579.64,2266.50) scale(0.9588,1)"><tspan font-size="55.4" font-weight="bold" dy="0">680</tspan></text>
<text font-family="Liberation Sans" fill="#000" xml:space="preserve" transform="translate(765.21,2266.50) scale(0.9626,1)"><tspan font-size="55.4" font-weight="bold" dy="0">700</tspan></text>
<text font-family="Liberation Sans" fill="#000" xml:space="preserve" transform="translate(951.12,2266.50) scale(0.9626,1)"><tspan font-size="55.4" font-weight="bold" dy="0">720</tspan></text>
<text font-family="Liberation Sans" fill="#000" xml:space="preserve" transform="translate(1137.04,2266.50) scale(0.9626,1)"><tspan font-size="55.4" font-weight="bold" dy="0">740</tspan></text>
<text font-family="Liberation Sans" fill="#000" xml:space="preserve" transform="translate(1322.95,2266.50) scale(0.9626,1)"><tspan font-size="55.4" font-weight="bold" dy="0">760</tspan></text>
<text font-family="Liberation Sans" fill="#000" xml:space="preserve" transform="translate(25.36,1359.80) scale(0.9961,1)"><tspan font-size="54" font-weight="normal" dy="0" stroke="#000" stroke-width="0.5">(</tspan><tspan font-size="54" font-weight="bold" dy="0"> b </tspan><tspan font-size="54" font-weight="normal" dy="0" stroke="#000" stroke-width="0.5">)</tspan></text>
<text font-family="Liberation Sans" fill="#000" xml:space="preserve" transform="translate(569.45,2366.10) scale(0.8970,1)"><tspan font-size="62.4" font-weight="bold" dy="0">Wavelength </tspan><tspan font-size="62.4" font-weight="normal" dy="0" stroke="#000" stroke-width="0.5">(</tspan><tspan font-size="62.4" font-weight="bold" dy="0"> nm </tspan><tspan font-size="62.4" font-weight="normal" dy="0" stroke="#000" stroke-width="0.5">)</tspan></text>
<text font-family="Liberation Sans" fill="#000" xml:space="preserve" transform="translate(148.60,2023.58) rotate(-90) scale(1.0230,1)"><tspan font-size="59.6" font-weight="bold" dy="0">Intensity</tspan></text>
<text font-family="Liberation Sans" fill="#000" xml:space="preserve" transform="translate(148.60,1760.01) rotate(-90) scale(0.9239,1)"><tspan font-size="59.6" font-weight="normal" dy="0" stroke="#000" stroke-width="0.5">(</tspan></text>
<text font-family="Liberation Sans" fill="#000" xml:space="preserve" transform="translate(148.60,1724.23) rotate(-90) scale(1.0466,1)"><tspan font-size="59.6" font-weight="bold" dy="0">a.</tspan></text>
<text font-family="Liberation Sans" fill="#000" xml:space="preserve" transform="translate(148.60,1659.85) rotate(-90) scale(1.0406,1)"><tspan font-size="59.6" font-weight="bold" dy="0">u.</tspan></text>
<text font-family="Liberation Sans" fill="#000" xml:space="preserve" transform="translate(148.60,1606.32) rotate(-90) scale(0.9176,1)"><tspan font-size="59.6" font-weight="normal" dy="0" stroke="#000" stroke-width="0.5">)</tspan></text>
<line x1="919.80" y1="1382.40" x2="1030.30" y2="1382.40" stroke="#00FF00" stroke-width="4.5" stroke-linecap="butt"/>
<text font-family="Liberation Sans" fill="#000" xml:space="preserve" transform="translate(1040.53,1399.90) scale(0.9400,1)"><tspan font-size="51" font-weight="bold" dy="0">Cu</tspan><tspan font-size="30" font-weight="bold" dy="17.5">2</tspan><tspan font-size="51" font-weight="bold" dy="-17.5">O</tspan></text>
<line x1="919.80" y1="1460.00" x2="1030.30" y2="1460.00" stroke="#FF0080" stroke-width="4.5" stroke-linecap="butt"/>
<text font-family="Liberation Sans" fill="#000" xml:space="preserve" transform="translate(1040.53,1477.60) scale(0.9400,1)"><tspan font-size="51" font-weight="bold" dy="0">Cu/Cu</tspan><tspan font-size="30" font-weight="bold" dy="17.5">2</tspan><tspan font-size="51" font-weight="bold" dy="-17.5">O</tspan></text>
<line x1="919.80" y1="1538.20" x2="1030.30" y2="1538.20" stroke="#000000" stroke-width="4.5" stroke-linecap="butt"/>
<text font-family="Liberation Sans" fill="#000" xml:space="preserve" transform="translate(1042.45,1556.00) scale(0.9400,1)"><tspan font-size="51" font-weight="bold" dy="0">WO</tspan><tspan font-size="30" font-weight="bold" dy="17.5">3</tspan></text>
<line x1="919.80" y1="1618.00" x2="1030.30" y2="1618.00" stroke="#0000FF" stroke-width="4.5" stroke-linecap="butt"/>
<text font-family="Liberation Sans" fill="#000" xml:space="preserve" transform="translate(1040.53,1633.50) scale(0.9400,1)"><tspan font-size="51" font-weight="bold" dy="0">Cu</tspan><tspan font-size="30" font-weight="bold" dy="17.5">2</tspan><tspan font-size="51" font-weight="bold" dy="-17.5">O/WO</tspan><tspan font-size="30" font-weight="bold" dy="17.5">3</tspan></text>
<line x1="919.80" y1="1696.00" x2="1030.30" y2="1696.00" stroke="#FF8000" stroke-width="4.5" stroke-linecap="butt"/>
<text font-family="Liberation Sans" fill="#000" xml:space="preserve" transform="translate(1040.53,1713.80) scale(0.9400,1)"><tspan font-size="51" font-weight="bold" dy="0">Cu/Cu</tspan><tspan font-size="30" font-weight="bold" dy="17.5">2</tspan><tspan font-size="51" font-weight="bold" dy="-17.5">O/WO</tspan><tspan font-size="30" font-weight="bold" dy="17.5">3</tspan></text></svg>
</body></html>
